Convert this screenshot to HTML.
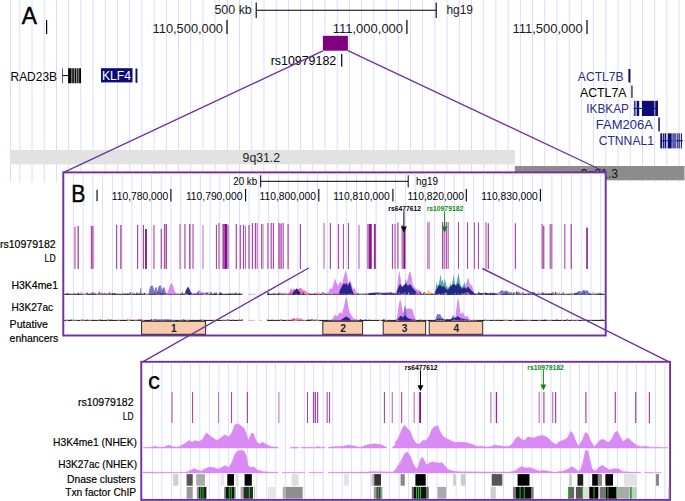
<!DOCTYPE html>
<html><head><meta charset="utf-8"><title>Figure</title>
<style>
html,body{margin:0;padding:0;background:#fff;}
body{width:685px;height:501px;overflow:hidden;font-family:"Liberation Sans",sans-serif;}
svg{display:block;font-family:"Liberation Sans",sans-serif;}
</style></head><body>
<svg width="685" height="501" viewBox="0 0 685 501">
<g id="A">
<rect x="10.07" y="0" width="0.85" height="182.00" fill="#d6d6ff"/>
<rect x="19.38" y="0" width="0.85" height="182.30" fill="#d6d6ff"/>
<rect x="31.58" y="0" width="0.85" height="182.30" fill="#d6d6ff"/>
<rect x="43.79" y="0" width="0.85" height="182.30" fill="#d6d6ff"/>
<rect x="56.00" y="0" width="0.85" height="182.30" fill="#d6d6ff"/>
<rect x="68.21" y="0" width="0.85" height="182.30" fill="#d6d6ff"/>
<rect x="80.42" y="0" width="0.85" height="182.30" fill="#d6d6ff"/>
<rect x="92.62" y="0" width="0.85" height="182.30" fill="#d6d6ff"/>
<rect x="104.83" y="0" width="0.85" height="182.30" fill="#d6d6ff"/>
<rect x="117.04" y="0" width="0.85" height="182.30" fill="#d6d6ff"/>
<rect x="129.25" y="0" width="0.85" height="182.30" fill="#d6d6ff"/>
<rect x="141.45" y="0" width="0.85" height="182.30" fill="#d6d6ff"/>
<rect x="153.66" y="0" width="0.85" height="182.30" fill="#d6d6ff"/>
<rect x="165.87" y="0" width="0.85" height="182.30" fill="#d6d6ff"/>
<rect x="178.08" y="0" width="0.85" height="182.30" fill="#d6d6ff"/>
<rect x="190.29" y="0" width="0.85" height="182.30" fill="#d6d6ff"/>
<rect x="202.49" y="0" width="0.85" height="182.30" fill="#d6d6ff"/>
<rect x="214.70" y="0" width="0.85" height="182.30" fill="#d6d6ff"/>
<rect x="226.91" y="0" width="0.85" height="182.30" fill="#d6d6ff"/>
<rect x="239.12" y="0" width="0.85" height="182.30" fill="#d6d6ff"/>
<rect x="251.33" y="0" width="0.85" height="182.30" fill="#d6d6ff"/>
<rect x="263.53" y="0" width="0.85" height="182.30" fill="#d6d6ff"/>
<rect x="275.74" y="0" width="0.85" height="182.30" fill="#d6d6ff"/>
<rect x="287.95" y="0" width="0.85" height="182.30" fill="#d6d6ff"/>
<rect x="300.16" y="0" width="0.85" height="182.30" fill="#d6d6ff"/>
<rect x="312.37" y="0" width="0.85" height="182.30" fill="#d6d6ff"/>
<rect x="324.58" y="0" width="0.85" height="182.30" fill="#d6d6ff"/>
<rect x="336.78" y="0" width="0.85" height="182.30" fill="#d6d6ff"/>
<rect x="348.99" y="0" width="0.85" height="182.30" fill="#d6d6ff"/>
<rect x="361.20" y="0" width="0.85" height="182.30" fill="#d6d6ff"/>
<rect x="373.41" y="0" width="0.85" height="182.30" fill="#d6d6ff"/>
<rect x="385.62" y="0" width="0.85" height="182.30" fill="#d6d6ff"/>
<rect x="397.82" y="0" width="0.85" height="182.30" fill="#d6d6ff"/>
<rect x="410.03" y="0" width="0.85" height="182.30" fill="#d6d6ff"/>
<rect x="422.24" y="0" width="0.85" height="182.30" fill="#d6d6ff"/>
<rect x="434.45" y="0" width="0.85" height="182.30" fill="#d6d6ff"/>
<rect x="446.66" y="0" width="0.85" height="182.30" fill="#d6d6ff"/>
<rect x="458.86" y="0" width="0.85" height="182.30" fill="#d6d6ff"/>
<rect x="471.07" y="0" width="0.85" height="182.30" fill="#d6d6ff"/>
<rect x="483.28" y="0" width="0.85" height="182.30" fill="#d6d6ff"/>
<rect x="495.49" y="0" width="0.85" height="182.30" fill="#d6d6ff"/>
<rect x="507.70" y="0" width="0.85" height="182.30" fill="#d6d6ff"/>
<rect x="519.90" y="0" width="0.85" height="182.30" fill="#d6d6ff"/>
<rect x="532.11" y="0" width="0.85" height="182.30" fill="#d6d6ff"/>
<rect x="544.32" y="0" width="0.85" height="182.30" fill="#d6d6ff"/>
<rect x="556.53" y="0" width="0.85" height="182.30" fill="#d6d6ff"/>
<rect x="568.74" y="0" width="0.85" height="182.30" fill="#d6d6ff"/>
<rect x="580.94" y="0" width="0.85" height="182.30" fill="#d6d6ff"/>
<rect x="593.15" y="0" width="0.85" height="182.30" fill="#d6d6ff"/>
<rect x="605.36" y="0" width="0.85" height="182.30" fill="#d6d6ff"/>
<rect x="617.57" y="0" width="0.85" height="182.30" fill="#d6d6ff"/>
<rect x="629.78" y="0" width="0.85" height="182.30" fill="#d6d6ff"/>
<rect x="641.98" y="0" width="0.85" height="182.30" fill="#d6d6ff"/>
<rect x="654.19" y="0" width="0.85" height="182.30" fill="#d6d6ff"/>
<rect x="666.40" y="0" width="0.85" height="182.30" fill="#d6d6ff"/>
<rect x="678.61" y="0" width="0.85" height="182.30" fill="#d6d6ff"/>
<rect x="10.00" y="150.00" width="504.80" height="14.30" fill="#e2e2e2"/>
<rect x="514.80" y="166.00" width="169.70" height="14.30" fill="#8c8c8c"/>
<text x="242.6" y="161.6" font-size="12.3" fill="#222" text-anchor="start" font-weight="normal" textLength="37.5" lengthAdjust="spacingAndGlyphs">9q31.2</text>
<text x="580.7" y="177.8" font-size="12.3" fill="#111" text-anchor="start" font-weight="normal" textLength="37.4" lengthAdjust="spacingAndGlyphs">9q31.3</text>
<text x="21.8" y="24.3" font-size="24.5" fill="#000" text-anchor="start" font-weight="normal" textLength="15.2" lengthAdjust="spacingAndGlyphs" stroke="#000" stroke-width="0.45">A</text>
<rect x="46.00" y="20" width="1.2" height="14.00" fill="#000"/>
<text x="214.4" y="14.3" font-size="12.5" fill="#1a1a1a" text-anchor="start" font-weight="normal" textLength="37.4" lengthAdjust="spacingAndGlyphs">500 kb</text>
<path d="M256.2 2.5V18M436.2 2.5V18M256.2 10.2H436.2" stroke="#000" stroke-width="1.1" fill="none"/>
<text x="446.5" y="14.3" font-size="12.5" fill="#1a1a1a" text-anchor="start" font-weight="normal" textLength="26.5" lengthAdjust="spacingAndGlyphs">hg19</text>
<text x="152.6" y="33.1" font-size="12.6" fill="#1a1a1a" text-anchor="start" font-weight="normal" textLength="70.4" lengthAdjust="spacingAndGlyphs">110,500,000</text>
<rect x="226.40" y="20" width="1.2" height="14.00" fill="#000"/>
<text x="332.7" y="33.1" font-size="12.6" fill="#1a1a1a" text-anchor="start" font-weight="normal" textLength="70.4" lengthAdjust="spacingAndGlyphs">111,000,000</text>
<rect x="406.30" y="20" width="1.2" height="14.00" fill="#000"/>
<text x="512.4" y="33.1" font-size="12.6" fill="#1a1a1a" text-anchor="start" font-weight="normal" textLength="70.4" lengthAdjust="spacingAndGlyphs">111,500,000</text>
<rect x="586.40" y="20" width="1.2" height="14.00" fill="#000"/>
<rect x="322.90" y="35.80" width="25.00" height="14.90" fill="#800080"/>
<text x="270.7" y="65" font-size="12.3" fill="#000" text-anchor="start" font-weight="normal" textLength="65.5" lengthAdjust="spacingAndGlyphs">rs10979182</text>
<rect x="341.10" y="54" width="1.2" height="12.60" fill="#000"/>
<text x="10.5" y="80.6" font-size="12.2" fill="#000" text-anchor="start" font-weight="normal" textLength="46.5" lengthAdjust="spacingAndGlyphs">RAD23B</text>
<path d="M62.5 75.6H69" stroke="#000" stroke-width="1"/>
<rect x="62.20" y="68.30" width="0.80" height="14.90" fill="#444"/>
<rect x="68.10" y="68.30" width="12.90" height="14.90" fill="#bbb"/>
<rect x="68.10" y="68.30" width="3.30" height="14.90" fill="#000"/>
<rect x="72.30" y="68.30" width="1.50" height="14.90" fill="#000"/>
<rect x="74.70" y="68.30" width="1.30" height="14.90" fill="#000"/>
<rect x="76.70" y="68.30" width="1.90" height="14.90" fill="#333"/>
<rect x="79.20" y="68.30" width="1.80" height="14.90" fill="#000"/>
<rect x="101.00" y="68.20" width="31.50" height="14.20" fill="#0c0c78"/>
<text x="102" y="80.3" font-size="12.2" fill="#fff" text-anchor="start" font-weight="normal" textLength="29" lengthAdjust="spacingAndGlyphs">KLF4</text>
<rect x="135.50" y="68.50" width="1.90" height="14.30" fill="#0c0c78"/>
<text x="577.8" y="80.6" font-size="12.2" fill="#2a2a8c" text-anchor="start" font-weight="normal" textLength="45.8" lengthAdjust="spacingAndGlyphs">ACTL7B</text>
<rect x="628.40" y="69.00" width="2.00" height="13.40" fill="#0c0c78"/>
<text x="580" y="97" font-size="12.2" fill="#000" text-anchor="start" font-weight="normal" textLength="46.5" lengthAdjust="spacingAndGlyphs">ACTL7A</text>
<rect x="631.40" y="85.50" width="1.10" height="12.50" fill="#000"/>
<text x="586.2" y="113" font-size="12.2" fill="#2a2a8c" text-anchor="start" font-weight="normal" textLength="42.8" lengthAdjust="spacingAndGlyphs">IKBKAP</text>
<path d="M633.7 108.4H657.7" stroke="#0c0c78" stroke-width="1"/>
<rect x="633.90" y="100.80" width="0.90" height="15.20" fill="#0c0c78"/>
<rect x="635.50" y="100.80" width="0.90" height="15.20" fill="#0c0c78"/>
<rect x="637.00" y="100.80" width="2.20" height="15.20" fill="#0c0c78"/>
<rect x="641.90" y="100.80" width="12.50" height="15.20" fill="#0c0c78"/>
<rect x="655.20" y="100.80" width="2.80" height="15.20" fill="#0c0c78"/>
<text x="595.8" y="129.3" font-size="12.2" fill="#2a2a8c" text-anchor="start" font-weight="normal" textLength="57.2" lengthAdjust="spacingAndGlyphs">FAM206A</text>
<rect x="658.30" y="117.50" width="1.50" height="13.90" fill="#0c0c78"/>
<text x="598.7" y="145.4" font-size="12.2" fill="#2a2a8c" text-anchor="start" font-weight="normal" textLength="55.3" lengthAdjust="spacingAndGlyphs">CTNNAL1</text>
<path d="M660.8 140.8H683" stroke="#0c0c78" stroke-width="1"/>
<rect x="672.20" y="133.30" width="4.00" height="15.10" fill="#5a5aa8"/>
<rect x="660.30" y="133.30" width="2.00" height="15.10" fill="#0c0c78"/>
<rect x="663.10" y="133.30" width="1.20" height="15.10" fill="#0c0c78"/>
<rect x="664.80" y="133.30" width="1.40" height="15.10" fill="#0c0c78"/>
<rect x="667.70" y="133.30" width="4.00" height="15.10" fill="#0c0c78"/>
<rect x="676.80" y="133.30" width="0.90" height="15.10" fill="#0c0c78"/>
<rect x="678.50" y="133.30" width="1.20" height="15.10" fill="#0c0c78"/>
<rect x="680.80" y="133.30" width="1.10" height="15.10" fill="#0c0c78"/>
</g>
<path d="M322.9 50.9L63.2 172.6M347.9 50.6L606 172.2" stroke="#7030A0" stroke-width="1.25" fill="none"/>
<g id="B">
<rect x="63.30" y="172.40" width="542.40" height="163.10" fill="#fff" stroke="#7030A0" stroke-width="1.95"/>
<rect x="72.88" y="173.4" width="0.85" height="147.00" fill="#d6d6ff"/>
<rect x="82.64" y="173.4" width="0.85" height="147.00" fill="#d6d6ff"/>
<rect x="92.41" y="173.4" width="0.85" height="147.00" fill="#d6d6ff"/>
<rect x="102.18" y="173.4" width="0.85" height="147.00" fill="#d6d6ff"/>
<rect x="111.94" y="173.4" width="0.85" height="147.00" fill="#d6d6ff"/>
<rect x="121.71" y="173.4" width="0.85" height="147.00" fill="#d6d6ff"/>
<rect x="131.48" y="173.4" width="0.85" height="147.00" fill="#d6d6ff"/>
<rect x="141.24" y="173.4" width="0.85" height="147.00" fill="#d6d6ff"/>
<rect x="151.01" y="173.4" width="0.85" height="147.00" fill="#d6d6ff"/>
<rect x="160.78" y="173.4" width="0.85" height="147.00" fill="#d6d6ff"/>
<rect x="170.54" y="173.4" width="0.85" height="147.00" fill="#d6d6ff"/>
<rect x="180.31" y="173.4" width="0.85" height="147.00" fill="#d6d6ff"/>
<rect x="190.08" y="173.4" width="0.85" height="147.00" fill="#d6d6ff"/>
<rect x="199.85" y="173.4" width="0.85" height="147.00" fill="#d6d6ff"/>
<rect x="209.61" y="173.4" width="0.85" height="147.00" fill="#d6d6ff"/>
<rect x="219.38" y="173.4" width="0.85" height="147.00" fill="#d6d6ff"/>
<rect x="229.15" y="173.4" width="0.85" height="147.00" fill="#d6d6ff"/>
<rect x="238.91" y="173.4" width="0.85" height="147.00" fill="#d6d6ff"/>
<rect x="248.68" y="173.4" width="0.85" height="147.00" fill="#d6d6ff"/>
<rect x="258.45" y="173.4" width="0.85" height="147.00" fill="#d6d6ff"/>
<rect x="268.21" y="173.4" width="0.85" height="147.00" fill="#d6d6ff"/>
<rect x="277.98" y="173.4" width="0.85" height="147.00" fill="#d6d6ff"/>
<rect x="287.75" y="173.4" width="0.85" height="147.00" fill="#d6d6ff"/>
<rect x="297.52" y="173.4" width="0.85" height="147.00" fill="#d6d6ff"/>
<rect x="307.28" y="173.4" width="0.85" height="147.00" fill="#d6d6ff"/>
<rect x="317.05" y="173.4" width="0.85" height="147.00" fill="#d6d6ff"/>
<rect x="326.82" y="173.4" width="0.85" height="147.00" fill="#d6d6ff"/>
<rect x="336.58" y="173.4" width="0.85" height="147.00" fill="#d6d6ff"/>
<rect x="346.35" y="173.4" width="0.85" height="147.00" fill="#d6d6ff"/>
<rect x="356.12" y="173.4" width="0.85" height="147.00" fill="#d6d6ff"/>
<rect x="365.88" y="173.4" width="0.85" height="147.00" fill="#d6d6ff"/>
<rect x="375.65" y="173.4" width="0.85" height="147.00" fill="#d6d6ff"/>
<rect x="385.42" y="173.4" width="0.85" height="147.00" fill="#d6d6ff"/>
<rect x="395.19" y="173.4" width="0.85" height="147.00" fill="#d6d6ff"/>
<rect x="404.95" y="173.4" width="0.85" height="147.00" fill="#d6d6ff"/>
<rect x="414.72" y="173.4" width="0.85" height="147.00" fill="#d6d6ff"/>
<rect x="424.49" y="173.4" width="0.85" height="147.00" fill="#d6d6ff"/>
<rect x="434.25" y="173.4" width="0.85" height="147.00" fill="#d6d6ff"/>
<rect x="444.02" y="173.4" width="0.85" height="147.00" fill="#d6d6ff"/>
<rect x="453.79" y="173.4" width="0.85" height="147.00" fill="#d6d6ff"/>
<rect x="463.55" y="173.4" width="0.85" height="147.00" fill="#d6d6ff"/>
<rect x="473.32" y="173.4" width="0.85" height="147.00" fill="#d6d6ff"/>
<rect x="483.09" y="173.4" width="0.85" height="147.00" fill="#d6d6ff"/>
<rect x="492.86" y="173.4" width="0.85" height="147.00" fill="#d6d6ff"/>
<rect x="502.62" y="173.4" width="0.85" height="147.00" fill="#d6d6ff"/>
<rect x="512.39" y="173.4" width="0.85" height="147.00" fill="#d6d6ff"/>
<rect x="522.16" y="173.4" width="0.85" height="147.00" fill="#d6d6ff"/>
<rect x="531.92" y="173.4" width="0.85" height="147.00" fill="#d6d6ff"/>
<rect x="541.69" y="173.4" width="0.85" height="147.00" fill="#d6d6ff"/>
<rect x="551.46" y="173.4" width="0.85" height="147.00" fill="#d6d6ff"/>
<rect x="561.23" y="173.4" width="0.85" height="147.00" fill="#d6d6ff"/>
<rect x="570.99" y="173.4" width="0.85" height="147.00" fill="#d6d6ff"/>
<rect x="580.76" y="173.4" width="0.85" height="147.00" fill="#d6d6ff"/>
<rect x="590.53" y="173.4" width="0.85" height="147.00" fill="#d6d6ff"/>
<rect x="600.29" y="173.4" width="0.85" height="147.00" fill="#d6d6ff"/>
<text x="71.3" y="201.8" font-size="23.5" fill="#000" text-anchor="start" font-weight="normal" textLength="14.2" lengthAdjust="spacingAndGlyphs" stroke="#000" stroke-width="0.4">B</text>
<rect x="96.30" y="189.8" width="1.6" height="11.40" fill="#4a4a4a"/>
<text x="233.2" y="185.4" font-size="11" fill="#000" text-anchor="start" font-weight="normal" textLength="24" lengthAdjust="spacingAndGlyphs">20 kb</text>
<path d="M260.7 175.3V187.3M408.2 175.3V187.3M260.7 181.3H408.2" stroke="#000" stroke-width="1" fill="none"/>
<text x="415.9" y="185.4" font-size="11" fill="#000" text-anchor="start" font-weight="normal" textLength="22" lengthAdjust="spacingAndGlyphs">hg19</text>
<text x="111.8" y="200.4" font-size="11" fill="#000" text-anchor="start" font-weight="normal" textLength="56.5" lengthAdjust="spacingAndGlyphs">110,780,000</text>
<rect x="170.35" y="189" width="1.1" height="12.40" fill="#000"/>
<text x="185.9" y="200.4" font-size="11" fill="#000" text-anchor="start" font-weight="normal" textLength="56.5" lengthAdjust="spacingAndGlyphs">110,790,000</text>
<rect x="245.05" y="189" width="1.1" height="12.40" fill="#000"/>
<text x="259.5" y="200.4" font-size="11" fill="#000" text-anchor="start" font-weight="normal" textLength="56.5" lengthAdjust="spacingAndGlyphs">110,800,000</text>
<rect x="318.25" y="189" width="1.1" height="12.40" fill="#000"/>
<text x="333.2" y="200.4" font-size="11" fill="#000" text-anchor="start" font-weight="normal" textLength="56.5" lengthAdjust="spacingAndGlyphs">110,810,000</text>
<rect x="392.35" y="189" width="1.1" height="12.40" fill="#000"/>
<text x="407.5" y="200.4" font-size="11" fill="#000" text-anchor="start" font-weight="normal" textLength="56.5" lengthAdjust="spacingAndGlyphs">110,820,000</text>
<rect x="465.75" y="189" width="1.1" height="12.40" fill="#000"/>
<text x="481.2" y="200.4" font-size="11" fill="#000" text-anchor="start" font-weight="normal" textLength="56.5" lengthAdjust="spacingAndGlyphs">110,830,000</text>
<rect x="539.85" y="189" width="1.1" height="12.40" fill="#000"/>
<rect x="73.90" y="226.90" width="2.00" height="42.00" fill="#cb94cb"/>
<rect x="77.50" y="225.90" width="1.40" height="43.00" fill="#aa48aa"/>
<rect x="90.80" y="225.90" width="2.00" height="43.00" fill="#aa48aa"/>
<rect x="92.80" y="225.90" width="1.40" height="43.00" fill="#cb94cb"/>
<rect x="116.00" y="225.00" width="1.20" height="43.90" fill="#aa48aa"/>
<rect x="120.20" y="225.00" width="1.40" height="43.90" fill="#aa48aa"/>
<rect x="137.00" y="225.00" width="1.20" height="43.90" fill="#aa48aa"/>
<rect x="142.80" y="225.00" width="1.20" height="43.90" fill="#aa48aa"/>
<rect x="145.00" y="229.00" width="2.00" height="39.90" fill="#982498"/>
<rect x="152.90" y="225.00" width="2.00" height="43.90" fill="#cb94cb"/>
<rect x="160.70" y="229.00" width="1.20" height="39.90" fill="#aa48aa"/>
<rect x="163.90" y="224.00" width="1.40" height="44.90" fill="#aa48aa"/>
<rect x="165.70" y="224.00" width="1.30" height="44.90" fill="#aa48aa"/>
<rect x="179.20" y="224.00" width="1.90" height="44.90" fill="#cb94cb"/>
<rect x="184.10" y="224.00" width="1.60" height="44.90" fill="#bf78bf"/>
<rect x="189.10" y="224.00" width="1.40" height="44.90" fill="#aa48aa"/>
<rect x="192.10" y="224.00" width="1.90" height="44.90" fill="#cb94cb"/>
<rect x="202.40" y="225.00" width="1.10" height="43.90" fill="#bf78bf"/>
<rect x="215.90" y="225.00" width="1.10" height="43.90" fill="#aa48aa"/>
<rect x="218.20" y="223.00" width="1.60" height="45.90" fill="#bf78bf"/>
<rect x="222.40" y="224.00" width="2.00" height="44.90" fill="#aa48aa"/>
<rect x="224.40" y="224.00" width="3.00" height="44.90" fill="#860c86"/>
<rect x="227.40" y="225.00" width="1.40" height="43.90" fill="#bf78bf"/>
<rect x="235.70" y="224.00" width="1.20" height="44.90" fill="#aa48aa"/>
<rect x="239.70" y="225.00" width="1.20" height="43.90" fill="#aa48aa"/>
<rect x="242.90" y="225.00" width="1.10" height="43.90" fill="#aa48aa"/>
<rect x="244.80" y="226.00" width="1.00" height="42.90" fill="#aa48aa"/>
<rect x="248.40" y="225.00" width="1.20" height="43.90" fill="#aa48aa"/>
<rect x="251.80" y="223.00" width="1.20" height="45.90" fill="#aa48aa"/>
<rect x="254.80" y="223.00" width="1.20" height="45.90" fill="#aa48aa"/>
<rect x="256.60" y="223.00" width="1.30" height="45.90" fill="#bf78bf"/>
<rect x="261.10" y="224.00" width="1.20" height="44.90" fill="#aa48aa"/>
<rect x="262.50" y="224.00" width="1.20" height="44.90" fill="#cb94cb"/>
<rect x="267.10" y="223.00" width="1.60" height="45.90" fill="#bf78bf"/>
<rect x="270.60" y="223.00" width="1.20" height="45.90" fill="#aa48aa"/>
<rect x="272.80" y="223.00" width="1.20" height="45.90" fill="#aa48aa"/>
<rect x="278.00" y="223.00" width="2.00" height="45.90" fill="#bf78bf"/>
<rect x="280.40" y="223.50" width="1.40" height="45.40" fill="#aa48aa"/>
<rect x="282.60" y="223.00" width="1.20" height="45.90" fill="#aa48aa"/>
<rect x="287.50" y="224.00" width="1.20" height="44.90" fill="#aa48aa"/>
<rect x="299.80" y="224.00" width="1.20" height="44.90" fill="#aa48aa"/>
<rect x="323.30" y="223.00" width="1.50" height="45.90" fill="#cb94cb"/>
<rect x="329.80" y="223.00" width="1.20" height="45.90" fill="#aa48aa"/>
<rect x="337.90" y="224.00" width="1.20" height="44.90" fill="#aa48aa"/>
<rect x="342.90" y="224.00" width="1.00" height="44.90" fill="#aa48aa"/>
<rect x="347.90" y="223.00" width="1.10" height="45.90" fill="#aa48aa"/>
<rect x="358.20" y="225.00" width="1.60" height="43.90" fill="#cb94cb"/>
<rect x="367.10" y="224.00" width="2.00" height="44.90" fill="#bf78bf"/>
<rect x="369.10" y="224.00" width="2.60" height="44.90" fill="#860c86"/>
<rect x="373.90" y="224.00" width="1.90" height="44.90" fill="#982498"/>
<rect x="391.90" y="224.00" width="1.20" height="44.90" fill="#aa48aa"/>
<rect x="394.50" y="224.00" width="1.00" height="44.90" fill="#aa48aa"/>
<rect x="397.10" y="222.40" width="1.60" height="46.50" fill="#bf78bf"/>
<rect x="401.50" y="225.00" width="1.90" height="43.90" fill="#bf78bf"/>
<rect x="403.40" y="227.00" width="2.00" height="41.90" fill="#860c86"/>
<rect x="427.10" y="222.40" width="1.40" height="46.50" fill="#bf78bf"/>
<rect x="428.70" y="221.60" width="1.10" height="47.30" fill="#bf78bf"/>
<rect x="442.00" y="222.00" width="1.30" height="46.90" fill="#aa48aa"/>
<rect x="443.70" y="224.00" width="1.40" height="44.90" fill="#bf78bf"/>
<rect x="445.70" y="222.00" width="1.20" height="46.90" fill="#aa48aa"/>
<rect x="447.50" y="222.00" width="1.40" height="46.90" fill="#bf78bf"/>
<rect x="458.00" y="222.00" width="1.00" height="46.90" fill="#aa48aa"/>
<rect x="467.00" y="222.30" width="1.10" height="46.60" fill="#aa48aa"/>
<rect x="473.90" y="222.30" width="1.00" height="46.60" fill="#aa48aa"/>
<rect x="477.90" y="222.30" width="1.10" height="46.60" fill="#aa48aa"/>
<rect x="485.10" y="222.30" width="1.80" height="46.60" fill="#cb94cb"/>
<rect x="487.70" y="223.30" width="1.30" height="45.60" fill="#aa48aa"/>
<rect x="514.80" y="223.30" width="1.20" height="45.60" fill="#aa48aa"/>
<rect x="541.40" y="224.00" width="1.70" height="44.90" fill="#bf78bf"/>
<rect x="543.10" y="226.00" width="1.30" height="42.90" fill="#aa48aa"/>
<rect x="549.50" y="224.00" width="3.00" height="44.90" fill="#bf78bf"/>
<rect x="564.00" y="224.00" width="1.50" height="44.90" fill="#bf78bf"/>
<rect x="570.60" y="224.00" width="1.30" height="44.90" fill="#aa48aa"/>
<rect x="586.20" y="227.60" width="1.70" height="41.30" fill="#982498"/>
<path d="M64.3 294.3H242.5M267 294.3H604.7M64.3 320.4H242.5M267 320.4H604.7" stroke="#111" stroke-width="1"/>
<path d="M166.5 294.3L166.5 294.3L168.2 291.0L170.0 285.0L171.4 282.9L172.8 285.0L174.5 291.0L176.0 294.3L176.0 294.3Z" fill="#d88af5"/>
<path d="M196.0 294.3L196.0 294.3L198.0 291.0L199.4 289.9L201.0 292.0L204.0 293.0L212.0 294.3L212.0 294.3Z" fill="#d88af5"/>
<path d="M327.4 294.3L327.4 294.3L329.0 291.0L330.0 288.3L332.0 289.0L334.0 282.0L335.3 278.6L336.5 283.0L338.0 286.0L340.5 281.3L342.0 284.0L344.0 276.0L345.5 270.4L347.0 275.0L348.5 284.0L350.0 279.5L351.5 284.0L353.0 289.0L354.5 288.0L356.0 292.0L358.1 294.3L358.1 294.3Z" fill="#d88af5"/>
<path d="M395.4 294.3L395.4 294.3L397.0 289.0L398.3 277.0L399.4 270.8L400.4 277.0L401.6 285.0L403.0 288.0L404.5 286.0L406.0 283.0L407.5 280.0L408.8 274.0L410.3 271.1L411.4 276.0L412.6 284.0L414.5 287.5L417.0 289.5L420.0 290.5L422.6 294.3L422.6 294.3Z" fill="#d88af5"/>
<path d="M464.0 294.3L464.0 294.3L466.0 284.0L468.1 276.9L469.5 283.0L471.0 286.0L471.6 284.0L473.0 289.0L475.0 294.3L475.0 294.3Z" fill="#d88af5"/>
<path d="M380.0 294.3L380.0 294.3L384.0 292.5L388.0 293.0L392.0 292.0L395.0 294.3L395.0 294.3Z" fill="#d88af5"/>
<path d="M288.9 294.3L288.9 294.3L290.0 290.5L291.0 287.8L292.5 290.5L294.0 288.3L296.0 290.5L299.0 288.3L301.0 287.8L303.0 290.0L305.0 290.5L307.0 292.3L309.9 294.3L309.9 294.3Z" fill="#f27cc0"/>
<path d="M140.0 294.3L140.0 294.3L140.3 288.0L141.0 287.6L141.6 294.3L141.6 294.3Z" fill="#7878c8"/>
<path d="M148.5 294.3L148.5 294.3L149.5 289.0L150.5 286.0L152.5 285.5L153.6 288.0L154.3 292.0L155.0 288.0L156.5 287.0L157.3 292.0L158.0 288.0L159.0 285.8L161.0 285.5L161.8 290.0L162.8 288.0L164.0 287.0L165.3 290.0L166.0 294.3L166.0 294.3Z" fill="#7878c8"/>
<path d="M497.0 294.3L497.0 294.3L500.0 291.5L502.0 290.0L504.0 291.5L506.0 290.5L508.0 291.5L511.0 293.0L514.0 294.3L514.0 294.3Z" fill="#7878c8"/>
<path d="M516.0 294.3L516.0 294.3L518.0 291.2L520.0 293.0L522.0 294.3L522.0 294.3Z" fill="#7878c8"/>
<path d="M530.0 294.3L530.0 294.3L532.0 292.0L534.0 291.8L536.0 294.3L536.0 294.3Z" fill="#7878c8"/>
<path d="M574.0 294.3L574.0 294.3L577.0 292.5L579.5 290.5L581.0 292.0L584.0 289.5L585.0 291.0L587.0 290.0L589.0 292.5L592.0 294.3L592.0 294.3Z" fill="#7878c8"/>
<path d="M434.0 294.3L434.0 294.3L435.4 290.0L436.6 281.5L437.6 286.0L438.8 284.0L440.6 274.3L441.7 282.0L442.7 279.5L443.8 284.0L445.0 278.6L446.2 285.0L448.0 288.0L449.5 286.0L450.6 283.0L451.6 286.5L452.6 281.0L453.7 275.1L454.8 283.0L455.8 285.5L457.0 280.0L458.5 272.2L459.6 280.0L461.0 287.0L463.0 286.0L464.6 282.1L466.0 288.0L468.0 294.3L468.0 294.3Z" fill="#50a0a0" opacity="0.9"/>
<path d="M403.5 294.3L403.5 294.3L404.6 285.0L405.9 278.6L407.0 285.0L408.5 294.3L408.5 294.3Z" fill="#50a0a0" opacity="0.9"/>
<path d="M184.5 294.3L184.5 294.3L186.0 290.0L188.0 286.4L189.5 289.0L191.5 294.3L191.5 294.3Z" fill="#1a1a82" opacity="0.9"/>
<path d="M292.0 294.3L292.0 294.3L294.0 291.0L296.8 288.3L299.0 291.0L302.0 294.3L302.0 294.3Z" fill="#1a1a82" opacity="0.9"/>
<path d="M338.8 294.3L338.8 294.3L340.0 290.0L342.0 286.0L344.0 283.0L345.0 284.5L346.5 283.0L348.0 286.0L349.3 282.1L350.5 284.0L352.0 290.0L354.0 294.3L354.0 294.3Z" fill="#1a1a82" opacity="0.9"/>
<path d="M396.3 294.3L396.3 294.3L398.0 288.0L400.0 284.0L402.0 287.0L404.0 285.0L406.0 283.5L408.0 286.0L410.0 284.0L412.0 287.0L414.0 289.5L416.0 291.5L418.0 294.3L418.0 294.3Z" fill="#1a1a82" opacity="0.9"/>
<path d="M434.5 294.3L434.5 294.3L436.0 290.0L438.0 287.0L440.0 284.5L442.0 287.0L444.0 286.0L446.0 289.0L448.0 290.0L450.0 287.0L452.0 285.0L454.0 284.0L456.0 286.0L458.0 283.0L460.0 286.0L462.0 289.0L464.0 287.0L466.0 289.0L468.0 286.5L470.0 289.0L472.0 291.0L474.0 293.0L475.0 294.3L475.0 294.3Z" fill="#1a1a82" opacity="0.9"/>
<path d="M366.0 294.3L366.0 294.3L370.0 293.0L376.0 292.6L384.0 293.0L390.0 292.4L396.0 294.3L396.0 294.3Z" fill="#1a1a82" opacity="0.85"/>
<path d="M476.0 294.3L476.0 294.3L480.0 293.0L486.0 293.2L492.0 293.0L497.0 294.3L497.0 294.3Z" fill="#1a1a82" opacity="0.8"/>
<path d="M427.0 294.3L427.0 294.3L428.5 289.5L430.0 294.3L430.0 294.3Z" fill="#f0b040"/>
<path d="M331.2 320.4L331.2 320.4L333.0 318.0L335.3 314.6L337.0 316.5L339.0 313.5L340.6 311.9L342.0 314.0L344.0 306.0L345.5 299.0L346.2 297.0L347.0 299.0L348.5 308.0L350.0 313.0L351.1 314.6L353.0 318.0L356.0 319.3L359.9 320.4L359.9 320.4Z" fill="#d88af5"/>
<path d="M396.3 320.4L396.3 320.4L397.5 314.0L399.0 304.0L400.1 298.8L401.2 303.0L402.5 311.0L404.0 313.0L405.5 309.0L407.7 308.4L410.0 308.4L412.5 309.5L413.5 314.0L415.0 318.0L416.4 320.4L416.4 320.4Z" fill="#d88af5"/>
<path d="M454.0 320.4L454.0 320.4L455.5 316.0L457.0 304.0L458.1 296.2L459.2 304.0L460.5 314.0L462.0 313.0L462.9 311.9L464.0 315.0L466.0 317.0L467.2 315.4L469.0 318.5L471.0 320.4L471.0 320.4Z" fill="#d88af5"/>
<path d="M289.8 320.4L289.8 320.4L292.0 318.5L293.5 317.7L295.5 319.0L297.0 318.0L299.0 318.5L301.0 318.2L303.8 320.4L303.8 320.4Z" fill="#f27cc0"/>
<path d="M403.0 320.4L403.0 320.4L404.0 310.0L405.0 304.0L406.0 310.0L407.0 320.4L407.0 320.4Z" fill="#7878c8"/>
<path d="M435.0 320.4L435.0 320.4L436.5 316.0L437.5 313.7L439.0 314.5L440.0 313.7L441.5 317.0L443.0 318.0L445.0 320.4L445.0 320.4Z" fill="#7878c8"/>
<path d="M451.0 320.4L451.0 320.4L452.5 316.0L453.2 314.6L454.5 318.0L456.0 320.4L456.0 320.4Z" fill="#7878c8"/>
<path d="M150.0 320.4L150.0 320.4L154.0 319.3L160.0 319.5L168.0 319.2L176.0 320.4L176.0 320.4Z" fill="#7878c8"/>
<path d="M397.0 320.4L397.0 320.4L399.0 317.5L401.0 315.5L403.0 317.5L405.0 315.0L407.0 317.5L409.0 318.5L412.0 319.4L415.0 320.4L415.0 320.4Z" fill="#1a1a82" opacity="0.9"/>
<path d="M436.0 320.4L436.0 320.4L438.0 318.5L440.0 319.0L444.0 319.6L450.0 319.3L453.0 318.0L456.0 317.5L458.0 316.0L460.0 318.0L463.0 318.8L467.0 319.5L470.0 320.4L470.0 320.4Z" fill="#1a1a82" opacity="0.9"/>
<path d="M340.0 320.4L340.0 320.4L343.0 318.5L346.0 316.5L349.0 318.0L351.0 320.4L351.0 320.4Z" fill="#1a1a82" opacity="0.9"/>
<rect x="66.0" y="293.51" width="1.3" height="0.79" fill="#1a1a82" opacity="0.8"/>
<rect x="67.3" y="292.78" width="1.3" height="1.52" fill="#c03050" opacity="0.8"/>
<rect x="71.2" y="293.64" width="1.3" height="0.66" fill="#d88af5" opacity="0.8"/>
<rect x="72.5" y="293.63" width="1.3" height="0.67" fill="#d88af5" opacity="0.8"/>
<rect x="73.8" y="292.73" width="1.3" height="1.57" fill="#7878c8" opacity="0.8"/>
<rect x="77.7" y="292.69" width="1.3" height="1.61" fill="#1a1a82" opacity="0.8"/>
<rect x="80.3" y="292.17" width="1.3" height="2.13" fill="#f27cc0" opacity="0.8"/>
<rect x="81.6" y="292.77" width="1.3" height="1.53" fill="#f27cc0" opacity="0.8"/>
<rect x="85.5" y="292.71" width="1.3" height="1.59" fill="#7878c8" opacity="0.8"/>
<rect x="86.8" y="292.76" width="1.3" height="1.54" fill="#1a1a82" opacity="0.8"/>
<rect x="90.7" y="292.79" width="1.3" height="1.51" fill="#c03050" opacity="0.8"/>
<rect x="92.0" y="292.05" width="1.3" height="2.25" fill="#c03050" opacity="0.8"/>
<rect x="93.3" y="292.29" width="1.3" height="2.01" fill="#7878c8" opacity="0.8"/>
<rect x="94.6" y="293.23" width="1.3" height="1.07" fill="#3a3ab0" opacity="0.8"/>
<rect x="98.5" y="291.94" width="1.3" height="2.36" fill="#1a1a82" opacity="0.8"/>
<rect x="99.8" y="293.49" width="1.3" height="0.81" fill="#c03050" opacity="0.8"/>
<rect x="101.1" y="292.87" width="1.3" height="1.43" fill="#1a1a82" opacity="0.8"/>
<rect x="103.7" y="292.74" width="1.3" height="1.56" fill="#c03050" opacity="0.8"/>
<rect x="105.0" y="293.13" width="1.3" height="1.17" fill="#3a3ab0" opacity="0.8"/>
<rect x="107.6" y="292.20" width="1.3" height="2.10" fill="#f27cc0" opacity="0.8"/>
<rect x="108.9" y="292.54" width="1.3" height="1.76" fill="#1a1a82" opacity="0.8"/>
<rect x="111.5" y="292.70" width="1.3" height="1.60" fill="#3a3ab0" opacity="0.8"/>
<rect x="112.8" y="293.07" width="1.3" height="1.23" fill="#c03050" opacity="0.8"/>
<rect x="114.1" y="292.92" width="1.3" height="1.38" fill="#1a1a82" opacity="0.8"/>
<rect x="116.7" y="293.39" width="1.3" height="0.91" fill="#f27cc0" opacity="0.8"/>
<rect x="118.0" y="293.33" width="1.3" height="0.97" fill="#d88af5" opacity="0.8"/>
<rect x="120.6" y="293.48" width="1.3" height="0.82" fill="#d88af5" opacity="0.8"/>
<rect x="121.9" y="292.12" width="1.3" height="2.18" fill="#d88af5" opacity="0.8"/>
<rect x="124.5" y="293.01" width="1.3" height="1.29" fill="#c03050" opacity="0.8"/>
<rect x="127.1" y="293.36" width="1.3" height="0.94" fill="#1a1a82" opacity="0.8"/>
<rect x="128.4" y="293.36" width="1.3" height="0.94" fill="#7878c8" opacity="0.8"/>
<rect x="129.7" y="292.22" width="1.3" height="2.08" fill="#1a1a82" opacity="0.8"/>
<rect x="131.0" y="293.79" width="1.3" height="0.51" fill="#d88af5" opacity="0.8"/>
<rect x="132.3" y="292.64" width="1.3" height="1.66" fill="#c03050" opacity="0.8"/>
<rect x="136.2" y="292.63" width="1.3" height="1.67" fill="#1a1a82" opacity="0.8"/>
<rect x="137.5" y="292.15" width="1.3" height="2.15" fill="#d88af5" opacity="0.8"/>
<rect x="138.8" y="293.05" width="1.3" height="1.25" fill="#3a3ab0" opacity="0.8"/>
<rect x="141.4" y="293.67" width="1.3" height="0.63" fill="#7878c8" opacity="0.8"/>
<rect x="142.7" y="293.59" width="1.3" height="0.71" fill="#1a1a82" opacity="0.8"/>
<rect x="144.0" y="292.72" width="1.3" height="1.58" fill="#1a1a82" opacity="0.8"/>
<rect x="147.9" y="293.40" width="1.3" height="0.90" fill="#d88af5" opacity="0.8"/>
<rect x="149.2" y="293.32" width="1.3" height="0.98" fill="#c03050" opacity="0.8"/>
<rect x="151.8" y="293.58" width="1.3" height="0.72" fill="#3a3ab0" opacity="0.8"/>
<rect x="154.4" y="292.88" width="1.3" height="1.42" fill="#1a1a82" opacity="0.8"/>
<rect x="155.7" y="292.38" width="1.3" height="1.92" fill="#f27cc0" opacity="0.8"/>
<rect x="157.0" y="292.49" width="1.3" height="1.81" fill="#1a1a82" opacity="0.8"/>
<rect x="158.3" y="291.99" width="1.3" height="2.31" fill="#c03050" opacity="0.8"/>
<rect x="159.6" y="292.77" width="1.3" height="1.53" fill="#1a1a82" opacity="0.8"/>
<rect x="162.2" y="292.58" width="1.3" height="1.72" fill="#1a1a82" opacity="0.8"/>
<rect x="164.8" y="293.10" width="1.3" height="1.20" fill="#1a1a82" opacity="0.8"/>
<rect x="166.1" y="293.38" width="1.3" height="0.92" fill="#c03050" opacity="0.8"/>
<rect x="172.6" y="293.35" width="1.3" height="0.95" fill="#d88af5" opacity="0.8"/>
<rect x="175.2" y="292.82" width="1.3" height="1.48" fill="#c03050" opacity="0.8"/>
<rect x="180.4" y="293.43" width="1.3" height="0.87" fill="#c03050" opacity="0.8"/>
<rect x="181.7" y="292.02" width="1.3" height="2.28" fill="#c03050" opacity="0.8"/>
<rect x="184.3" y="293.38" width="1.3" height="0.92" fill="#7878c8" opacity="0.8"/>
<rect x="185.6" y="293.16" width="1.3" height="1.14" fill="#3a3ab0" opacity="0.8"/>
<rect x="190.8" y="292.56" width="1.3" height="1.74" fill="#1a1a82" opacity="0.8"/>
<rect x="193.4" y="293.06" width="1.3" height="1.24" fill="#7878c8" opacity="0.8"/>
<rect x="194.7" y="293.46" width="1.3" height="0.84" fill="#c03050" opacity="0.8"/>
<rect x="196.0" y="292.00" width="1.3" height="2.30" fill="#d88af5" opacity="0.8"/>
<rect x="197.3" y="292.39" width="1.3" height="1.91" fill="#1a1a82" opacity="0.8"/>
<rect x="199.9" y="293.56" width="1.3" height="0.74" fill="#1a1a82" opacity="0.8"/>
<rect x="202.5" y="292.55" width="1.3" height="1.75" fill="#3a3ab0" opacity="0.8"/>
<rect x="205.1" y="292.76" width="1.3" height="1.54" fill="#1a1a82" opacity="0.8"/>
<rect x="206.4" y="292.28" width="1.3" height="2.02" fill="#1a1a82" opacity="0.8"/>
<rect x="207.7" y="292.03" width="1.3" height="2.27" fill="#d88af5" opacity="0.8"/>
<rect x="210.3" y="292.14" width="1.3" height="2.16" fill="#1a1a82" opacity="0.8"/>
<rect x="211.6" y="293.24" width="1.3" height="1.06" fill="#7878c8" opacity="0.8"/>
<rect x="214.2" y="292.77" width="1.3" height="1.53" fill="#1a1a82" opacity="0.8"/>
<rect x="215.5" y="292.39" width="1.3" height="1.91" fill="#3a3ab0" opacity="0.8"/>
<rect x="219.4" y="292.23" width="1.3" height="2.07" fill="#1a1a82" opacity="0.8"/>
<rect x="220.7" y="292.81" width="1.3" height="1.49" fill="#1a1a82" opacity="0.8"/>
<rect x="227.2" y="293.53" width="1.3" height="0.77" fill="#1a1a82" opacity="0.8"/>
<rect x="229.8" y="292.82" width="1.3" height="1.48" fill="#3a3ab0" opacity="0.8"/>
<rect x="232.4" y="292.74" width="1.3" height="1.56" fill="#7878c8" opacity="0.8"/>
<rect x="233.7" y="293.72" width="1.3" height="0.58" fill="#1a1a82" opacity="0.8"/>
<rect x="235.0" y="292.73" width="1.3" height="1.57" fill="#1a1a82" opacity="0.8"/>
<rect x="236.3" y="292.64" width="1.3" height="1.66" fill="#7878c8" opacity="0.8"/>
<rect x="238.9" y="292.79" width="1.3" height="1.51" fill="#3a3ab0" opacity="0.8"/>
<rect x="240.2" y="293.33" width="1.3" height="0.97" fill="#f27cc0" opacity="0.8"/>
<rect x="267.5" y="292.12" width="1.3" height="2.18" fill="#1a1a82" opacity="0.8"/>
<rect x="271.4" y="292.98" width="1.3" height="1.32" fill="#d88af5" opacity="0.8"/>
<rect x="272.7" y="293.43" width="1.3" height="0.87" fill="#c03050" opacity="0.8"/>
<rect x="274.0" y="293.10" width="1.3" height="1.20" fill="#c03050" opacity="0.8"/>
<rect x="276.6" y="293.77" width="1.3" height="0.53" fill="#c03050" opacity="0.8"/>
<rect x="277.9" y="293.24" width="1.3" height="1.06" fill="#1a1a82" opacity="0.8"/>
<rect x="279.2" y="292.05" width="1.3" height="2.25" fill="#7878c8" opacity="0.8"/>
<rect x="281.8" y="293.30" width="1.3" height="1.00" fill="#1a1a82" opacity="0.8"/>
<rect x="284.4" y="292.36" width="1.3" height="1.94" fill="#d88af5" opacity="0.8"/>
<rect x="289.6" y="292.78" width="1.3" height="1.52" fill="#3a3ab0" opacity="0.8"/>
<rect x="292.2" y="293.69" width="1.3" height="0.61" fill="#1a1a82" opacity="0.8"/>
<rect x="293.5" y="293.66" width="1.3" height="0.64" fill="#1a1a82" opacity="0.8"/>
<rect x="297.4" y="292.17" width="1.3" height="2.13" fill="#1a1a82" opacity="0.8"/>
<rect x="298.7" y="293.57" width="1.3" height="0.73" fill="#1a1a82" opacity="0.8"/>
<rect x="300.0" y="292.75" width="1.3" height="1.55" fill="#f27cc0" opacity="0.8"/>
<rect x="302.6" y="292.45" width="1.3" height="1.85" fill="#1a1a82" opacity="0.8"/>
<rect x="305.2" y="293.46" width="1.3" height="0.84" fill="#f27cc0" opacity="0.8"/>
<rect x="307.8" y="293.41" width="1.3" height="0.89" fill="#3a3ab0" opacity="0.8"/>
<rect x="309.1" y="293.46" width="1.3" height="0.84" fill="#c03050" opacity="0.8"/>
<rect x="313.0" y="293.76" width="1.3" height="0.54" fill="#7878c8" opacity="0.8"/>
<rect x="314.3" y="293.33" width="1.3" height="0.97" fill="#3a3ab0" opacity="0.8"/>
<rect x="315.6" y="292.24" width="1.3" height="2.06" fill="#d88af5" opacity="0.8"/>
<rect x="318.2" y="292.11" width="1.3" height="2.19" fill="#f27cc0" opacity="0.8"/>
<rect x="322.1" y="292.22" width="1.3" height="2.08" fill="#1a1a82" opacity="0.8"/>
<rect x="323.4" y="293.14" width="1.3" height="1.16" fill="#1a1a82" opacity="0.8"/>
<rect x="326.0" y="292.61" width="1.3" height="1.69" fill="#f27cc0" opacity="0.8"/>
<rect x="327.3" y="293.69" width="1.3" height="0.61" fill="#d88af5" opacity="0.8"/>
<rect x="331.2" y="293.34" width="1.3" height="0.96" fill="#f27cc0" opacity="0.8"/>
<rect x="332.5" y="293.45" width="1.3" height="0.85" fill="#f27cc0" opacity="0.8"/>
<rect x="333.8" y="293.30" width="1.3" height="1.00" fill="#c03050" opacity="0.8"/>
<rect x="336.4" y="293.34" width="1.3" height="0.96" fill="#f27cc0" opacity="0.8"/>
<rect x="337.7" y="293.45" width="1.3" height="0.85" fill="#c03050" opacity="0.8"/>
<rect x="339.0" y="292.90" width="1.3" height="1.40" fill="#7878c8" opacity="0.8"/>
<rect x="340.3" y="292.33" width="1.3" height="1.97" fill="#1a1a82" opacity="0.8"/>
<rect x="341.6" y="293.63" width="1.3" height="0.67" fill="#d88af5" opacity="0.8"/>
<rect x="344.2" y="293.23" width="1.3" height="1.07" fill="#7878c8" opacity="0.8"/>
<rect x="345.5" y="291.98" width="1.3" height="2.32" fill="#1a1a82" opacity="0.8"/>
<rect x="350.7" y="293.18" width="1.3" height="1.12" fill="#3a3ab0" opacity="0.8"/>
<rect x="352.0" y="292.42" width="1.3" height="1.88" fill="#1a1a82" opacity="0.8"/>
<rect x="353.3" y="292.21" width="1.3" height="2.09" fill="#d88af5" opacity="0.8"/>
<rect x="357.2" y="292.80" width="1.3" height="1.50" fill="#1a1a82" opacity="0.8"/>
<rect x="365.0" y="293.74" width="1.3" height="0.56" fill="#1a1a82" opacity="0.8"/>
<rect x="368.9" y="292.94" width="1.3" height="1.36" fill="#1a1a82" opacity="0.8"/>
<rect x="374.1" y="293.79" width="1.3" height="0.51" fill="#1a1a82" opacity="0.8"/>
<rect x="376.7" y="292.78" width="1.3" height="1.52" fill="#1a1a82" opacity="0.8"/>
<rect x="379.3" y="292.26" width="1.3" height="2.04" fill="#f27cc0" opacity="0.8"/>
<rect x="380.6" y="292.36" width="1.3" height="1.94" fill="#7878c8" opacity="0.8"/>
<rect x="384.5" y="293.07" width="1.3" height="1.23" fill="#3a3ab0" opacity="0.8"/>
<rect x="387.1" y="293.71" width="1.3" height="0.59" fill="#7878c8" opacity="0.8"/>
<rect x="388.4" y="293.52" width="1.3" height="0.78" fill="#f27cc0" opacity="0.8"/>
<rect x="393.6" y="292.88" width="1.3" height="1.42" fill="#3a3ab0" opacity="0.8"/>
<rect x="394.9" y="292.52" width="1.3" height="1.78" fill="#7878c8" opacity="0.8"/>
<rect x="397.5" y="292.82" width="1.3" height="1.48" fill="#3a3ab0" opacity="0.8"/>
<rect x="398.8" y="292.34" width="1.3" height="1.96" fill="#7878c8" opacity="0.8"/>
<rect x="400.1" y="293.64" width="1.3" height="0.66" fill="#3a3ab0" opacity="0.8"/>
<rect x="401.4" y="292.93" width="1.3" height="1.37" fill="#3a3ab0" opacity="0.8"/>
<rect x="404.0" y="292.06" width="1.3" height="2.24" fill="#7878c8" opacity="0.8"/>
<rect x="405.3" y="293.63" width="1.3" height="0.67" fill="#f27cc0" opacity="0.8"/>
<rect x="407.9" y="292.24" width="1.3" height="2.06" fill="#f27cc0" opacity="0.8"/>
<rect x="411.8" y="292.09" width="1.3" height="2.21" fill="#3a3ab0" opacity="0.8"/>
<rect x="413.1" y="293.50" width="1.3" height="0.80" fill="#3a3ab0" opacity="0.8"/>
<rect x="415.7" y="292.42" width="1.3" height="1.88" fill="#d88af5" opacity="0.8"/>
<rect x="417.0" y="293.20" width="1.3" height="1.10" fill="#c03050" opacity="0.8"/>
<rect x="418.3" y="292.37" width="1.3" height="1.93" fill="#d88af5" opacity="0.8"/>
<rect x="419.6" y="292.04" width="1.3" height="2.26" fill="#1a1a82" opacity="0.8"/>
<rect x="422.2" y="293.09" width="1.3" height="1.21" fill="#d88af5" opacity="0.8"/>
<rect x="423.5" y="292.15" width="1.3" height="2.15" fill="#1a1a82" opacity="0.8"/>
<rect x="424.8" y="292.99" width="1.3" height="1.31" fill="#f27cc0" opacity="0.8"/>
<rect x="427.4" y="293.70" width="1.3" height="0.60" fill="#f27cc0" opacity="0.8"/>
<rect x="430.0" y="291.96" width="1.3" height="2.34" fill="#d88af5" opacity="0.8"/>
<rect x="431.3" y="293.44" width="1.3" height="0.86" fill="#c03050" opacity="0.8"/>
<rect x="433.9" y="293.74" width="1.3" height="0.56" fill="#d88af5" opacity="0.8"/>
<rect x="437.8" y="292.43" width="1.3" height="1.87" fill="#1a1a82" opacity="0.8"/>
<rect x="440.4" y="292.63" width="1.3" height="1.67" fill="#1a1a82" opacity="0.8"/>
<rect x="443.0" y="293.71" width="1.3" height="0.59" fill="#1a1a82" opacity="0.8"/>
<rect x="444.3" y="293.01" width="1.3" height="1.29" fill="#f27cc0" opacity="0.8"/>
<rect x="445.6" y="292.40" width="1.3" height="1.90" fill="#f27cc0" opacity="0.8"/>
<rect x="446.9" y="293.35" width="1.3" height="0.95" fill="#3a3ab0" opacity="0.8"/>
<rect x="449.5" y="293.48" width="1.3" height="0.82" fill="#1a1a82" opacity="0.8"/>
<rect x="450.8" y="292.85" width="1.3" height="1.45" fill="#3a3ab0" opacity="0.8"/>
<rect x="453.4" y="293.17" width="1.3" height="1.13" fill="#3a3ab0" opacity="0.8"/>
<rect x="454.7" y="292.76" width="1.3" height="1.54" fill="#7878c8" opacity="0.8"/>
<rect x="456.0" y="293.15" width="1.3" height="1.15" fill="#1a1a82" opacity="0.8"/>
<rect x="457.3" y="293.10" width="1.3" height="1.20" fill="#7878c8" opacity="0.8"/>
<rect x="461.2" y="293.01" width="1.3" height="1.29" fill="#7878c8" opacity="0.8"/>
<rect x="462.5" y="293.16" width="1.3" height="1.14" fill="#1a1a82" opacity="0.8"/>
<rect x="463.8" y="292.71" width="1.3" height="1.59" fill="#c03050" opacity="0.8"/>
<rect x="465.1" y="292.84" width="1.3" height="1.46" fill="#7878c8" opacity="0.8"/>
<rect x="466.4" y="292.10" width="1.3" height="2.20" fill="#d88af5" opacity="0.8"/>
<rect x="467.7" y="292.95" width="1.3" height="1.35" fill="#f27cc0" opacity="0.8"/>
<rect x="471.6" y="293.74" width="1.3" height="0.56" fill="#3a3ab0" opacity="0.8"/>
<rect x="474.2" y="293.66" width="1.3" height="0.64" fill="#3a3ab0" opacity="0.8"/>
<rect x="476.8" y="293.59" width="1.3" height="0.71" fill="#1a1a82" opacity="0.8"/>
<rect x="478.1" y="291.95" width="1.3" height="2.35" fill="#1a1a82" opacity="0.8"/>
<rect x="484.6" y="292.35" width="1.3" height="1.95" fill="#1a1a82" opacity="0.8"/>
<rect x="485.9" y="293.16" width="1.3" height="1.14" fill="#1a1a82" opacity="0.8"/>
<rect x="488.5" y="293.16" width="1.3" height="1.14" fill="#f27cc0" opacity="0.8"/>
<rect x="489.8" y="292.57" width="1.3" height="1.73" fill="#1a1a82" opacity="0.8"/>
<rect x="491.1" y="292.83" width="1.3" height="1.47" fill="#7878c8" opacity="0.8"/>
<rect x="492.4" y="292.98" width="1.3" height="1.32" fill="#1a1a82" opacity="0.8"/>
<rect x="493.7" y="292.83" width="1.3" height="1.47" fill="#3a3ab0" opacity="0.8"/>
<rect x="495.0" y="292.80" width="1.3" height="1.50" fill="#7878c8" opacity="0.8"/>
<rect x="496.3" y="292.95" width="1.3" height="1.35" fill="#7878c8" opacity="0.8"/>
<rect x="497.6" y="292.62" width="1.3" height="1.68" fill="#f27cc0" opacity="0.8"/>
<rect x="498.9" y="293.03" width="1.3" height="1.27" fill="#d88af5" opacity="0.8"/>
<rect x="500.2" y="292.97" width="1.3" height="1.33" fill="#d88af5" opacity="0.8"/>
<rect x="502.8" y="293.34" width="1.3" height="0.96" fill="#c03050" opacity="0.8"/>
<rect x="505.4" y="292.65" width="1.3" height="1.65" fill="#1a1a82" opacity="0.8"/>
<rect x="509.3" y="293.01" width="1.3" height="1.29" fill="#7878c8" opacity="0.8"/>
<rect x="510.6" y="291.84" width="1.3" height="2.46" fill="#7878c8" opacity="0.8"/>
<rect x="511.9" y="292.90" width="1.3" height="1.40" fill="#f27cc0" opacity="0.8"/>
<rect x="513.2" y="292.22" width="1.3" height="2.08" fill="#1a1a82" opacity="0.8"/>
<rect x="515.8" y="291.67" width="1.3" height="2.63" fill="#1a1a82" opacity="0.8"/>
<rect x="518.4" y="292.65" width="1.3" height="1.65" fill="#7878c8" opacity="0.8"/>
<rect x="519.7" y="292.27" width="1.3" height="2.03" fill="#d88af5" opacity="0.8"/>
<rect x="521.0" y="293.29" width="1.3" height="1.01" fill="#d88af5" opacity="0.8"/>
<rect x="522.3" y="292.05" width="1.3" height="2.25" fill="#c03050" opacity="0.8"/>
<rect x="527.5" y="293.05" width="1.3" height="1.25" fill="#3a3ab0" opacity="0.8"/>
<rect x="528.8" y="292.14" width="1.3" height="2.16" fill="#d88af5" opacity="0.8"/>
<rect x="532.7" y="293.19" width="1.3" height="1.11" fill="#1a1a82" opacity="0.8"/>
<rect x="534.0" y="292.73" width="1.3" height="1.57" fill="#1a1a82" opacity="0.8"/>
<rect x="537.9" y="291.94" width="1.3" height="2.36" fill="#f27cc0" opacity="0.8"/>
<rect x="540.5" y="293.31" width="1.3" height="0.99" fill="#3a3ab0" opacity="0.8"/>
<rect x="541.8" y="292.37" width="1.3" height="1.93" fill="#3a3ab0" opacity="0.8"/>
<rect x="543.1" y="292.71" width="1.3" height="1.59" fill="#3a3ab0" opacity="0.8"/>
<rect x="544.4" y="292.62" width="1.3" height="1.68" fill="#d88af5" opacity="0.8"/>
<rect x="545.7" y="293.33" width="1.3" height="0.97" fill="#1a1a82" opacity="0.8"/>
<rect x="548.3" y="293.03" width="1.3" height="1.27" fill="#1a1a82" opacity="0.8"/>
<rect x="550.9" y="292.88" width="1.3" height="1.42" fill="#1a1a82" opacity="0.8"/>
<rect x="552.2" y="292.04" width="1.3" height="2.26" fill="#c03050" opacity="0.8"/>
<rect x="554.8" y="292.03" width="1.3" height="2.27" fill="#1a1a82" opacity="0.8"/>
<rect x="556.1" y="292.96" width="1.3" height="1.34" fill="#3a3ab0" opacity="0.8"/>
<rect x="558.7" y="291.92" width="1.3" height="2.38" fill="#f27cc0" opacity="0.8"/>
<rect x="562.6" y="292.46" width="1.3" height="1.84" fill="#1a1a82" opacity="0.8"/>
<rect x="570.4" y="292.79" width="1.3" height="1.51" fill="#c03050" opacity="0.8"/>
<rect x="574.3" y="292.66" width="1.3" height="1.64" fill="#1a1a82" opacity="0.8"/>
<rect x="575.6" y="293.28" width="1.3" height="1.02" fill="#1a1a82" opacity="0.8"/>
<rect x="576.9" y="292.37" width="1.3" height="1.93" fill="#1a1a82" opacity="0.8"/>
<rect x="582.1" y="293.24" width="1.3" height="1.06" fill="#1a1a82" opacity="0.8"/>
<rect x="583.4" y="291.52" width="1.3" height="2.78" fill="#3a3ab0" opacity="0.8"/>
<rect x="584.7" y="293.15" width="1.3" height="1.15" fill="#3a3ab0" opacity="0.8"/>
<rect x="592.5" y="291.80" width="1.3" height="2.50" fill="#f27cc0" opacity="0.8"/>
<rect x="593.8" y="292.89" width="1.3" height="1.41" fill="#f27cc0" opacity="0.8"/>
<rect x="596.4" y="292.93" width="1.3" height="1.37" fill="#7878c8" opacity="0.8"/>
<rect x="597.7" y="292.87" width="1.3" height="1.43" fill="#7878c8" opacity="0.8"/>
<rect x="599.0" y="292.65" width="1.3" height="1.65" fill="#7878c8" opacity="0.8"/>
<rect x="600.3" y="293.36" width="1.3" height="0.94" fill="#1a1a82" opacity="0.8"/>
<rect x="66.0" y="319.47" width="1.3" height="0.93" fill="#7878c8" opacity="0.8"/>
<rect x="69.9" y="319.64" width="1.3" height="0.76" fill="#1a1a82" opacity="0.8"/>
<rect x="71.2" y="319.36" width="1.3" height="1.04" fill="#7878c8" opacity="0.8"/>
<rect x="81.6" y="319.36" width="1.3" height="1.04" fill="#c03050" opacity="0.8"/>
<rect x="85.5" y="319.72" width="1.3" height="0.68" fill="#f27cc0" opacity="0.8"/>
<rect x="86.8" y="319.24" width="1.3" height="1.16" fill="#7878c8" opacity="0.8"/>
<rect x="94.6" y="319.87" width="1.3" height="0.53" fill="#3a3ab0" opacity="0.8"/>
<rect x="97.2" y="319.81" width="1.3" height="0.59" fill="#d88af5" opacity="0.8"/>
<rect x="99.8" y="319.42" width="1.3" height="0.98" fill="#1a1a82" opacity="0.8"/>
<rect x="107.6" y="319.23" width="1.3" height="1.17" fill="#c03050" opacity="0.8"/>
<rect x="110.2" y="319.21" width="1.3" height="1.19" fill="#c03050" opacity="0.8"/>
<rect x="118.0" y="319.80" width="1.3" height="0.60" fill="#1a1a82" opacity="0.8"/>
<rect x="123.2" y="319.89" width="1.3" height="0.51" fill="#1a1a82" opacity="0.8"/>
<rect x="127.1" y="319.34" width="1.3" height="1.06" fill="#c03050" opacity="0.8"/>
<rect x="129.7" y="319.59" width="1.3" height="0.81" fill="#1a1a82" opacity="0.8"/>
<rect x="133.6" y="319.46" width="1.3" height="0.94" fill="#7878c8" opacity="0.8"/>
<rect x="137.5" y="319.08" width="1.3" height="1.32" fill="#c03050" opacity="0.8"/>
<rect x="138.8" y="319.07" width="1.3" height="1.33" fill="#d88af5" opacity="0.8"/>
<rect x="140.1" y="319.26" width="1.3" height="1.14" fill="#1a1a82" opacity="0.8"/>
<rect x="150.5" y="319.06" width="1.3" height="1.34" fill="#1a1a82" opacity="0.8"/>
<rect x="153.1" y="319.68" width="1.3" height="0.72" fill="#7878c8" opacity="0.8"/>
<rect x="154.4" y="319.39" width="1.3" height="1.01" fill="#1a1a82" opacity="0.8"/>
<rect x="171.3" y="319.90" width="1.3" height="0.50" fill="#3a3ab0" opacity="0.8"/>
<rect x="181.7" y="319.58" width="1.3" height="0.82" fill="#c03050" opacity="0.8"/>
<rect x="183.0" y="319.50" width="1.3" height="0.90" fill="#1a1a82" opacity="0.8"/>
<rect x="184.3" y="319.78" width="1.3" height="0.62" fill="#c03050" opacity="0.8"/>
<rect x="188.2" y="319.45" width="1.3" height="0.95" fill="#d88af5" opacity="0.8"/>
<rect x="192.1" y="319.84" width="1.3" height="0.56" fill="#1a1a82" opacity="0.8"/>
<rect x="199.9" y="319.19" width="1.3" height="1.21" fill="#7878c8" opacity="0.8"/>
<rect x="201.2" y="319.58" width="1.3" height="0.82" fill="#f27cc0" opacity="0.8"/>
<rect x="202.5" y="319.09" width="1.3" height="1.31" fill="#f27cc0" opacity="0.8"/>
<rect x="227.2" y="319.13" width="1.3" height="1.27" fill="#3a3ab0" opacity="0.8"/>
<rect x="232.4" y="319.01" width="1.3" height="1.39" fill="#d88af5" opacity="0.8"/>
<rect x="238.9" y="319.60" width="1.3" height="0.80" fill="#1a1a82" opacity="0.8"/>
<rect x="241.5" y="319.23" width="1.3" height="1.17" fill="#1a1a82" opacity="0.8"/>
<rect x="266.2" y="319.39" width="1.3" height="1.01" fill="#f27cc0" opacity="0.8"/>
<rect x="267.5" y="319.58" width="1.3" height="0.82" fill="#7878c8" opacity="0.8"/>
<rect x="271.4" y="319.57" width="1.3" height="0.83" fill="#3a3ab0" opacity="0.8"/>
<rect x="272.7" y="319.89" width="1.3" height="0.51" fill="#7878c8" opacity="0.8"/>
<rect x="276.6" y="319.77" width="1.3" height="0.63" fill="#f27cc0" opacity="0.8"/>
<rect x="280.5" y="319.32" width="1.3" height="1.08" fill="#c03050" opacity="0.8"/>
<rect x="288.3" y="319.90" width="1.3" height="0.50" fill="#1a1a82" opacity="0.8"/>
<rect x="293.5" y="319.20" width="1.3" height="1.20" fill="#1a1a82" opacity="0.8"/>
<rect x="307.8" y="319.34" width="1.3" height="1.06" fill="#3a3ab0" opacity="0.8"/>
<rect x="310.4" y="319.14" width="1.3" height="1.26" fill="#3a3ab0" opacity="0.8"/>
<rect x="311.7" y="319.31" width="1.3" height="1.09" fill="#1a1a82" opacity="0.8"/>
<rect x="314.3" y="319.69" width="1.3" height="0.71" fill="#1a1a82" opacity="0.8"/>
<rect x="315.6" y="319.10" width="1.3" height="1.30" fill="#f27cc0" opacity="0.8"/>
<rect x="331.2" y="319.67" width="1.3" height="0.73" fill="#7878c8" opacity="0.8"/>
<rect x="335.1" y="319.08" width="1.3" height="1.32" fill="#7878c8" opacity="0.8"/>
<rect x="359.8" y="319.08" width="1.3" height="1.32" fill="#1a1a82" opacity="0.8"/>
<rect x="361.1" y="319.80" width="1.3" height="0.60" fill="#1a1a82" opacity="0.8"/>
<rect x="363.7" y="319.87" width="1.3" height="0.53" fill="#1a1a82" opacity="0.8"/>
<rect x="365.0" y="319.32" width="1.3" height="1.08" fill="#1a1a82" opacity="0.8"/>
<rect x="368.9" y="319.37" width="1.3" height="1.03" fill="#c03050" opacity="0.8"/>
<rect x="383.2" y="319.05" width="1.3" height="1.35" fill="#1a1a82" opacity="0.8"/>
<rect x="388.4" y="319.81" width="1.3" height="0.59" fill="#7878c8" opacity="0.8"/>
<rect x="396.2" y="319.22" width="1.3" height="1.18" fill="#c03050" opacity="0.8"/>
<rect x="405.3" y="319.43" width="1.3" height="0.97" fill="#1a1a82" opacity="0.8"/>
<rect x="413.1" y="319.16" width="1.3" height="1.24" fill="#1a1a82" opacity="0.8"/>
<rect x="419.6" y="319.59" width="1.3" height="0.81" fill="#1a1a82" opacity="0.8"/>
<rect x="436.5" y="319.33" width="1.3" height="1.07" fill="#1a1a82" opacity="0.8"/>
<rect x="441.7" y="319.61" width="1.3" height="0.79" fill="#1a1a82" opacity="0.8"/>
<rect x="446.9" y="319.10" width="1.3" height="1.30" fill="#1a1a82" opacity="0.8"/>
<rect x="453.4" y="319.02" width="1.3" height="1.38" fill="#7878c8" opacity="0.8"/>
<rect x="456.0" y="319.37" width="1.3" height="1.03" fill="#1a1a82" opacity="0.8"/>
<rect x="459.9" y="319.14" width="1.3" height="1.26" fill="#c03050" opacity="0.8"/>
<rect x="461.2" y="319.51" width="1.3" height="0.89" fill="#f27cc0" opacity="0.8"/>
<rect x="463.8" y="319.48" width="1.3" height="0.92" fill="#7878c8" opacity="0.8"/>
<rect x="484.6" y="319.31" width="1.3" height="1.09" fill="#7878c8" opacity="0.8"/>
<rect x="495.0" y="319.71" width="1.3" height="0.69" fill="#d88af5" opacity="0.8"/>
<rect x="497.6" y="319.13" width="1.3" height="1.27" fill="#d88af5" opacity="0.8"/>
<rect x="504.1" y="319.36" width="1.3" height="1.04" fill="#d88af5" opacity="0.8"/>
<rect x="505.4" y="319.68" width="1.3" height="0.72" fill="#d88af5" opacity="0.8"/>
<rect x="521.0" y="319.51" width="1.3" height="0.89" fill="#f27cc0" opacity="0.8"/>
<rect x="523.6" y="319.52" width="1.3" height="0.88" fill="#d88af5" opacity="0.8"/>
<rect x="544.4" y="319.41" width="1.3" height="0.99" fill="#1a1a82" opacity="0.8"/>
<rect x="556.1" y="319.19" width="1.3" height="1.21" fill="#c03050" opacity="0.8"/>
<rect x="566.5" y="319.01" width="1.3" height="1.39" fill="#c03050" opacity="0.8"/>
<rect x="571.7" y="319.83" width="1.3" height="0.57" fill="#d88af5" opacity="0.8"/>
<rect x="576.9" y="319.63" width="1.3" height="0.77" fill="#d88af5" opacity="0.8"/>
<rect x="586.0" y="319.20" width="1.3" height="1.20" fill="#7878c8" opacity="0.8"/>
<rect x="601.6" y="319.15" width="1.3" height="1.25" fill="#c03050" opacity="0.8"/>
<rect x="83.0" y="293.8" width="2.4" height="1" fill="#e8c060" opacity="0.85"/>
<rect x="86.0" y="293.8" width="1.5" height="1" fill="#b070d0" opacity="0.85"/>
<rect x="95.7" y="293.8" width="2.5" height="1" fill="#e58ab8" opacity="0.85"/>
<rect x="98.8" y="293.8" width="1.6" height="1" fill="#e8c060" opacity="0.85"/>
<rect x="101.0" y="293.8" width="1.7" height="1" fill="#60b8a8" opacity="0.85"/>
<rect x="103.3" y="293.8" width="2.9" height="1" fill="#b070d0" opacity="0.85"/>
<rect x="106.8" y="293.8" width="1.9" height="1" fill="#b070d0" opacity="0.85"/>
<rect x="109.3" y="293.8" width="2.8" height="1" fill="#d06080" opacity="0.85"/>
<rect x="130.0" y="293.8" width="2.3" height="1" fill="#60b8a8" opacity="0.85"/>
<rect x="142.8" y="293.8" width="1.7" height="1" fill="#8080c8" opacity="0.85"/>
<rect x="145.1" y="293.8" width="2.9" height="1" fill="#e8c060" opacity="0.85"/>
<rect x="157.1" y="293.8" width="3.1" height="1" fill="#d06080" opacity="0.85"/>
<rect x="163.3" y="293.8" width="1.2" height="1" fill="#d06080" opacity="0.85"/>
<rect x="165.2" y="293.8" width="3.1" height="1" fill="#e58ab8" opacity="0.85"/>
<rect x="171.6" y="293.8" width="3.0" height="1" fill="#d06080" opacity="0.85"/>
<rect x="175.2" y="293.8" width="2.0" height="1" fill="#e58ab8" opacity="0.85"/>
<rect x="177.9" y="293.8" width="2.9" height="1" fill="#b070d0" opacity="0.85"/>
<rect x="184.8" y="293.8" width="3.0" height="1" fill="#e8c060" opacity="0.85"/>
<rect x="191.0" y="293.8" width="2.9" height="1" fill="#b070d0" opacity="0.85"/>
<rect x="203.2" y="293.8" width="2.8" height="1" fill="#e8c060" opacity="0.85"/>
<rect x="206.6" y="293.8" width="2.6" height="1" fill="#d06080" opacity="0.85"/>
<rect x="217.0" y="293.8" width="2.0" height="1" fill="#e58ab8" opacity="0.85"/>
<rect x="274.8" y="293.8" width="2.1" height="1" fill="#b070d0" opacity="0.85"/>
<rect x="280.5" y="293.8" width="2.5" height="1" fill="#b070d0" opacity="0.85"/>
<rect x="283.6" y="293.8" width="2.3" height="1" fill="#b070d0" opacity="0.85"/>
<rect x="286.5" y="293.8" width="1.6" height="1" fill="#e58ab8" opacity="0.85"/>
<rect x="288.7" y="293.8" width="2.1" height="1" fill="#d06080" opacity="0.85"/>
<rect x="295.4" y="293.8" width="1.5" height="1" fill="#d06080" opacity="0.85"/>
<rect x="306.2" y="293.8" width="2.6" height="1" fill="#e58ab8" opacity="0.85"/>
<rect x="318.1" y="293.8" width="1.3" height="1" fill="#e58ab8" opacity="0.85"/>
<rect x="321.9" y="293.8" width="2.8" height="1" fill="#e8c060" opacity="0.85"/>
<rect x="331.5" y="293.8" width="2.4" height="1" fill="#8080c8" opacity="0.85"/>
<rect x="346.8" y="293.8" width="2.1" height="1" fill="#8080c8" opacity="0.85"/>
<rect x="349.5" y="293.8" width="1.9" height="1" fill="#8080c8" opacity="0.85"/>
<rect x="355.7" y="293.8" width="2.9" height="1" fill="#8080c8" opacity="0.85"/>
<rect x="359.2" y="293.8" width="2.7" height="1" fill="#60b8a8" opacity="0.85"/>
<rect x="362.4" y="293.8" width="2.4" height="1" fill="#b070d0" opacity="0.85"/>
<rect x="365.4" y="293.8" width="3.2" height="1" fill="#b070d0" opacity="0.85"/>
<rect x="375.9" y="293.8" width="1.8" height="1" fill="#e8c060" opacity="0.85"/>
<rect x="378.3" y="293.8" width="1.7" height="1" fill="#e58ab8" opacity="0.85"/>
<rect x="380.6" y="293.8" width="1.8" height="1" fill="#8080c8" opacity="0.85"/>
<rect x="400.9" y="293.8" width="3.2" height="1" fill="#e58ab8" opacity="0.85"/>
<rect x="407.8" y="293.8" width="1.6" height="1" fill="#e58ab8" opacity="0.85"/>
<rect x="415.3" y="293.8" width="2.7" height="1" fill="#8080c8" opacity="0.85"/>
<rect x="418.7" y="293.8" width="2.2" height="1" fill="#8080c8" opacity="0.85"/>
<rect x="424.0" y="293.8" width="1.6" height="1" fill="#e58ab8" opacity="0.85"/>
<rect x="433.5" y="293.8" width="1.5" height="1" fill="#b070d0" opacity="0.85"/>
<rect x="435.6" y="293.8" width="1.9" height="1" fill="#d06080" opacity="0.85"/>
<rect x="438.1" y="293.8" width="2.1" height="1" fill="#e8c060" opacity="0.85"/>
<rect x="440.8" y="293.8" width="2.4" height="1" fill="#8080c8" opacity="0.85"/>
<rect x="443.8" y="293.8" width="2.4" height="1" fill="#60b8a8" opacity="0.85"/>
<rect x="461.7" y="293.8" width="3.1" height="1" fill="#e58ab8" opacity="0.85"/>
<rect x="467.9" y="293.8" width="2.0" height="1" fill="#e58ab8" opacity="0.85"/>
<rect x="476.1" y="293.8" width="3.0" height="1" fill="#8080c8" opacity="0.85"/>
<rect x="482.8" y="293.8" width="2.6" height="1" fill="#e8c060" opacity="0.85"/>
<rect x="497.4" y="293.8" width="3.2" height="1" fill="#e58ab8" opacity="0.85"/>
<rect x="514.2" y="293.8" width="2.2" height="1" fill="#e8c060" opacity="0.85"/>
<rect x="520.3" y="293.8" width="2.6" height="1" fill="#8080c8" opacity="0.85"/>
<rect x="526.1" y="293.8" width="2.1" height="1" fill="#b070d0" opacity="0.85"/>
<rect x="530.9" y="293.8" width="1.5" height="1" fill="#60b8a8" opacity="0.85"/>
<rect x="539.4" y="293.8" width="2.8" height="1" fill="#60b8a8" opacity="0.85"/>
<rect x="554.3" y="293.8" width="1.2" height="1" fill="#e8c060" opacity="0.85"/>
<rect x="556.2" y="293.8" width="1.8" height="1" fill="#e58ab8" opacity="0.85"/>
<rect x="558.6" y="293.8" width="2.5" height="1" fill="#60b8a8" opacity="0.85"/>
<rect x="561.7" y="293.8" width="2.7" height="1" fill="#b070d0" opacity="0.85"/>
<rect x="564.9" y="293.8" width="2.3" height="1" fill="#60b8a8" opacity="0.85"/>
<rect x="570.2" y="293.8" width="1.5" height="1" fill="#e8c060" opacity="0.85"/>
<rect x="572.3" y="293.8" width="1.9" height="1" fill="#b070d0" opacity="0.85"/>
<rect x="576.8" y="293.8" width="2.2" height="1" fill="#8080c8" opacity="0.85"/>
<rect x="581.5" y="293.8" width="2.5" height="1" fill="#b070d0" opacity="0.85"/>
<rect x="584.6" y="293.8" width="2.9" height="1" fill="#60b8a8" opacity="0.85"/>
<rect x="591.8" y="293.8" width="1.7" height="1" fill="#60b8a8" opacity="0.85"/>
<rect x="594.1" y="293.8" width="1.4" height="1" fill="#60b8a8" opacity="0.85"/>
<rect x="66.0" y="319.9" width="1.9" height="1" fill="#e58ab8" opacity="0.85"/>
<rect x="71.9" y="319.9" width="1.8" height="1" fill="#e58ab8" opacity="0.85"/>
<rect x="74.2" y="319.9" width="3.0" height="1" fill="#8080c8" opacity="0.85"/>
<rect x="80.0" y="319.9" width="2.2" height="1" fill="#60b8a8" opacity="0.85"/>
<rect x="82.9" y="319.9" width="1.6" height="1" fill="#e58ab8" opacity="0.85"/>
<rect x="88.6" y="319.9" width="2.7" height="1" fill="#60b8a8" opacity="0.85"/>
<rect x="98.4" y="319.9" width="1.6" height="1" fill="#d06080" opacity="0.85"/>
<rect x="107.1" y="319.9" width="1.9" height="1" fill="#d06080" opacity="0.85"/>
<rect x="117.7" y="319.9" width="1.7" height="1" fill="#e8c060" opacity="0.85"/>
<rect x="127.4" y="319.9" width="3.1" height="1" fill="#e8c060" opacity="0.85"/>
<rect x="134.3" y="319.9" width="2.9" height="1" fill="#d06080" opacity="0.85"/>
<rect x="141.4" y="319.9" width="3.0" height="1" fill="#e58ab8" opacity="0.85"/>
<rect x="151.5" y="319.9" width="2.3" height="1" fill="#e58ab8" opacity="0.85"/>
<rect x="154.4" y="319.9" width="1.6" height="1" fill="#e58ab8" opacity="0.85"/>
<rect x="159.1" y="319.9" width="3.1" height="1" fill="#d06080" opacity="0.85"/>
<rect x="162.8" y="319.9" width="2.7" height="1" fill="#8080c8" opacity="0.85"/>
<rect x="171.4" y="319.9" width="1.9" height="1" fill="#60b8a8" opacity="0.85"/>
<rect x="173.9" y="319.9" width="1.3" height="1" fill="#b070d0" opacity="0.85"/>
<rect x="178.8" y="319.9" width="1.4" height="1" fill="#60b8a8" opacity="0.85"/>
<rect x="180.8" y="319.9" width="2.3" height="1" fill="#60b8a8" opacity="0.85"/>
<rect x="185.8" y="319.9" width="2.7" height="1" fill="#e58ab8" opacity="0.85"/>
<rect x="201.9" y="319.9" width="1.9" height="1" fill="#e8c060" opacity="0.85"/>
<rect x="213.0" y="319.9" width="2.3" height="1" fill="#60b8a8" opacity="0.85"/>
<rect x="221.9" y="319.9" width="2.5" height="1" fill="#8080c8" opacity="0.85"/>
<rect x="225.0" y="319.9" width="1.6" height="1" fill="#60b8a8" opacity="0.85"/>
<rect x="227.2" y="319.9" width="2.2" height="1" fill="#60b8a8" opacity="0.85"/>
<rect x="238.3" y="319.9" width="3.1" height="1" fill="#d06080" opacity="0.85"/>
<rect x="279.8" y="319.9" width="2.7" height="1" fill="#b070d0" opacity="0.85"/>
<rect x="286.1" y="319.9" width="2.5" height="1" fill="#d06080" opacity="0.85"/>
<rect x="294.1" y="319.9" width="2.8" height="1" fill="#e8c060" opacity="0.85"/>
<rect x="302.3" y="319.9" width="1.2" height="1" fill="#60b8a8" opacity="0.85"/>
<rect x="304.2" y="319.9" width="1.8" height="1" fill="#e8c060" opacity="0.85"/>
<rect x="311.4" y="319.9" width="1.5" height="1" fill="#e8c060" opacity="0.85"/>
<rect x="313.5" y="319.9" width="2.1" height="1" fill="#b070d0" opacity="0.85"/>
<rect x="316.2" y="319.9" width="2.9" height="1" fill="#e58ab8" opacity="0.85"/>
<rect x="328.3" y="319.9" width="1.5" height="1" fill="#8080c8" opacity="0.85"/>
<rect x="379.2" y="319.9" width="2.1" height="1" fill="#e8c060" opacity="0.85"/>
<rect x="385.3" y="319.9" width="2.0" height="1" fill="#e8c060" opacity="0.85"/>
<rect x="396.0" y="319.9" width="3.0" height="1" fill="#e58ab8" opacity="0.85"/>
<rect x="412.7" y="319.9" width="2.1" height="1" fill="#d06080" opacity="0.85"/>
<rect x="421.1" y="319.9" width="1.4" height="1" fill="#b070d0" opacity="0.85"/>
<rect x="426.1" y="319.9" width="1.5" height="1" fill="#b070d0" opacity="0.85"/>
<rect x="436.6" y="319.9" width="2.8" height="1" fill="#e8c060" opacity="0.85"/>
<rect x="440.0" y="319.9" width="1.9" height="1" fill="#e8c060" opacity="0.85"/>
<rect x="442.5" y="319.9" width="2.2" height="1" fill="#e8c060" opacity="0.85"/>
<rect x="452.3" y="319.9" width="2.0" height="1" fill="#e8c060" opacity="0.85"/>
<rect x="455.0" y="319.9" width="2.8" height="1" fill="#60b8a8" opacity="0.85"/>
<rect x="458.4" y="319.9" width="2.0" height="1" fill="#8080c8" opacity="0.85"/>
<rect x="461.0" y="319.9" width="2.4" height="1" fill="#d06080" opacity="0.85"/>
<rect x="464.0" y="319.9" width="2.5" height="1" fill="#b070d0" opacity="0.85"/>
<rect x="467.1" y="319.9" width="1.2" height="1" fill="#d06080" opacity="0.85"/>
<rect x="468.9" y="319.9" width="2.6" height="1" fill="#e8c060" opacity="0.85"/>
<rect x="472.1" y="319.9" width="2.0" height="1" fill="#e58ab8" opacity="0.85"/>
<rect x="474.7" y="319.9" width="2.5" height="1" fill="#b070d0" opacity="0.85"/>
<rect x="484.7" y="319.9" width="2.2" height="1" fill="#60b8a8" opacity="0.85"/>
<rect x="487.5" y="319.9" width="2.0" height="1" fill="#60b8a8" opacity="0.85"/>
<rect x="493.0" y="319.9" width="1.3" height="1" fill="#8080c8" opacity="0.85"/>
<rect x="503.4" y="319.9" width="2.4" height="1" fill="#60b8a8" opacity="0.85"/>
<rect x="506.4" y="319.9" width="1.9" height="1" fill="#e8c060" opacity="0.85"/>
<rect x="511.9" y="319.9" width="3.1" height="1" fill="#60b8a8" opacity="0.85"/>
<rect x="525.9" y="319.9" width="1.7" height="1" fill="#8080c8" opacity="0.85"/>
<rect x="528.2" y="319.9" width="2.9" height="1" fill="#b070d0" opacity="0.85"/>
<rect x="537.8" y="319.9" width="3.1" height="1" fill="#b070d0" opacity="0.85"/>
<rect x="547.3" y="319.9" width="2.6" height="1" fill="#60b8a8" opacity="0.85"/>
<rect x="550.5" y="319.9" width="1.4" height="1" fill="#b070d0" opacity="0.85"/>
<rect x="561.6" y="319.9" width="1.3" height="1" fill="#e8c060" opacity="0.85"/>
<rect x="566.5" y="319.9" width="2.1" height="1" fill="#b070d0" opacity="0.85"/>
<rect x="571.1" y="319.9" width="1.9" height="1" fill="#d06080" opacity="0.85"/>
<rect x="573.6" y="319.9" width="1.5" height="1" fill="#8080c8" opacity="0.85"/>
<rect x="575.6" y="319.9" width="2.9" height="1" fill="#b070d0" opacity="0.85"/>
<rect x="581.8" y="319.9" width="1.7" height="1" fill="#60b8a8" opacity="0.85"/>
<rect x="584.1" y="319.9" width="2.6" height="1" fill="#8080c8" opacity="0.85"/>
<rect x="589.6" y="319.9" width="2.2" height="1" fill="#b070d0" opacity="0.85"/>
<path d="M248.5 294.3H255.5M248 320.4H255M259 320.4H262" stroke="#b9a8d8" stroke-width="0.8"/>
<rect x="141.60" y="321.30" width="64.00" height="13.00" fill="#f8cbad" stroke="#2a2a2a" stroke-width="1"/>
<text x="173.9" y="331.7" font-size="10.2" fill="#222" text-anchor="middle" font-weight="bold">1</text>
<rect x="322.80" y="321.30" width="39.80" height="13.00" fill="#f8cbad" stroke="#2a2a2a" stroke-width="1"/>
<text x="343.00000000000006" y="331.7" font-size="10.2" fill="#222" text-anchor="middle" font-weight="bold">2</text>
<rect x="383.20" y="321.30" width="42.40" height="13.00" fill="#f8cbad" stroke="#2a2a2a" stroke-width="1"/>
<text x="404.7" y="331.7" font-size="10.2" fill="#222" text-anchor="middle" font-weight="bold">3</text>
<rect x="429.20" y="321.30" width="53.50" height="13.00" fill="#f8cbad" stroke="#2a2a2a" stroke-width="1"/>
<text x="456.25" y="331.7" font-size="10.2" fill="#222" text-anchor="middle" font-weight="bold">4</text>
<text x="388.3" y="211" font-size="8.1" fill="#000" text-anchor="start" font-weight="bold" textLength="32.6" lengthAdjust="spacingAndGlyphs">rs6477612</text>
<text x="426.7" y="211" font-size="8.1" fill="#0a8a0a" text-anchor="start" font-weight="bold" textLength="36.5" lengthAdjust="spacingAndGlyphs">rs10979182</text>
<path d="M403.9 211.3V228" stroke="#000" stroke-width="1"/><path d="M400.9 226.5H406.9L403.9 232.4Z" fill="#000"/>
<path d="M444.6 211.3V228" stroke="#0a8a0a" stroke-width="1"/><path d="M441.6 226.5H447.6L444.6 232.4Z" fill="#0a8a0a"/>
</g>
<text x="55.6" y="247.5" font-size="11.6" fill="#000" text-anchor="end" font-weight="normal" textLength="55.6" lengthAdjust="spacingAndGlyphs" stroke="#000" stroke-width="0.2">rs10979182</text>
<text x="55.6" y="261.9" font-size="11.6" fill="#000" text-anchor="end" font-weight="normal" textLength="11" lengthAdjust="spacingAndGlyphs" stroke="#000" stroke-width="0.2">LD</text>
<text x="11.5" y="288.8" font-size="11.6" fill="#000" text-anchor="start" font-weight="normal" textLength="46.5" lengthAdjust="spacingAndGlyphs" stroke="#000" stroke-width="0.2">H3K4me1</text>
<text x="11.5" y="310.8" font-size="11.6" fill="#000" text-anchor="start" font-weight="normal" textLength="41.7" lengthAdjust="spacingAndGlyphs" stroke="#000" stroke-width="0.2">H3K27ac</text>
<text x="9.6" y="327.8" font-size="11.6" fill="#000" text-anchor="start" font-weight="normal" textLength="38.4" lengthAdjust="spacingAndGlyphs" stroke="#000" stroke-width="0.2">Putative</text>
<text x="9.6" y="342.2" font-size="11.6" fill="#000" text-anchor="start" font-weight="normal" textLength="48.7" lengthAdjust="spacingAndGlyphs" stroke="#000" stroke-width="0.2">enhancers</text>
<path d="M308.7 268L141.8 362.3M482.4 268.5L669.6 362.2" stroke="#7030A0" stroke-width="1.4" fill="none"/>
<g id="C">
<rect x="141.25" y="361.80" width="528.85" height="138.10" fill="#fff" stroke="#7030A0" stroke-width="1.9"/>
<rect x="151.97" y="362.9" width="0.85" height="135.80" fill="#d6d6ff"/>
<rect x="161.47" y="362.9" width="0.85" height="135.80" fill="#d6d6ff"/>
<rect x="170.96" y="362.9" width="0.85" height="135.80" fill="#d6d6ff"/>
<rect x="180.45" y="362.9" width="0.85" height="135.80" fill="#d6d6ff"/>
<rect x="189.94" y="362.9" width="0.85" height="135.80" fill="#d6d6ff"/>
<rect x="199.43" y="362.9" width="0.85" height="135.80" fill="#d6d6ff"/>
<rect x="208.92" y="362.9" width="0.85" height="135.80" fill="#d6d6ff"/>
<rect x="218.41" y="362.9" width="0.85" height="135.80" fill="#d6d6ff"/>
<rect x="227.90" y="362.9" width="0.85" height="135.80" fill="#d6d6ff"/>
<rect x="237.39" y="362.9" width="0.85" height="135.80" fill="#d6d6ff"/>
<rect x="246.88" y="362.9" width="0.85" height="135.80" fill="#d6d6ff"/>
<rect x="256.37" y="362.9" width="0.85" height="135.80" fill="#d6d6ff"/>
<rect x="265.86" y="362.9" width="0.85" height="135.80" fill="#d6d6ff"/>
<rect x="275.35" y="362.9" width="0.85" height="135.80" fill="#d6d6ff"/>
<rect x="284.84" y="362.9" width="0.85" height="135.80" fill="#d6d6ff"/>
<rect x="294.33" y="362.9" width="0.85" height="135.80" fill="#d6d6ff"/>
<rect x="303.82" y="362.9" width="0.85" height="135.80" fill="#d6d6ff"/>
<rect x="313.31" y="362.9" width="0.85" height="135.80" fill="#d6d6ff"/>
<rect x="322.80" y="362.9" width="0.85" height="135.80" fill="#d6d6ff"/>
<rect x="332.29" y="362.9" width="0.85" height="135.80" fill="#d6d6ff"/>
<rect x="341.78" y="362.9" width="0.85" height="135.80" fill="#d6d6ff"/>
<rect x="351.27" y="362.9" width="0.85" height="135.80" fill="#d6d6ff"/>
<rect x="360.76" y="362.9" width="0.85" height="135.80" fill="#d6d6ff"/>
<rect x="370.25" y="362.9" width="0.85" height="135.80" fill="#d6d6ff"/>
<rect x="379.74" y="362.9" width="0.85" height="135.80" fill="#d6d6ff"/>
<rect x="389.23" y="362.9" width="0.85" height="135.80" fill="#d6d6ff"/>
<rect x="398.72" y="362.9" width="0.85" height="135.80" fill="#d6d6ff"/>
<rect x="408.21" y="362.9" width="0.85" height="135.80" fill="#d6d6ff"/>
<rect x="417.70" y="362.9" width="0.85" height="135.80" fill="#d6d6ff"/>
<rect x="427.19" y="362.9" width="0.85" height="135.80" fill="#d6d6ff"/>
<rect x="436.68" y="362.9" width="0.85" height="135.80" fill="#d6d6ff"/>
<rect x="446.17" y="362.9" width="0.85" height="135.80" fill="#d6d6ff"/>
<rect x="455.66" y="362.9" width="0.85" height="135.80" fill="#d6d6ff"/>
<rect x="465.15" y="362.9" width="0.85" height="135.80" fill="#d6d6ff"/>
<rect x="474.64" y="362.9" width="0.85" height="135.80" fill="#d6d6ff"/>
<rect x="484.13" y="362.9" width="0.85" height="135.80" fill="#d6d6ff"/>
<rect x="493.62" y="362.9" width="0.85" height="135.80" fill="#d6d6ff"/>
<rect x="503.11" y="362.9" width="0.85" height="135.80" fill="#d6d6ff"/>
<rect x="512.60" y="362.9" width="0.85" height="135.80" fill="#d6d6ff"/>
<rect x="522.09" y="362.9" width="0.85" height="135.80" fill="#d6d6ff"/>
<rect x="531.58" y="362.9" width="0.85" height="135.80" fill="#d6d6ff"/>
<rect x="541.07" y="362.9" width="0.85" height="135.80" fill="#d6d6ff"/>
<rect x="550.56" y="362.9" width="0.85" height="135.80" fill="#d6d6ff"/>
<rect x="560.05" y="362.9" width="0.85" height="135.80" fill="#d6d6ff"/>
<rect x="569.54" y="362.9" width="0.85" height="135.80" fill="#d6d6ff"/>
<rect x="579.03" y="362.9" width="0.85" height="135.80" fill="#d6d6ff"/>
<rect x="588.52" y="362.9" width="0.85" height="135.80" fill="#d6d6ff"/>
<rect x="598.01" y="362.9" width="0.85" height="135.80" fill="#d6d6ff"/>
<rect x="607.50" y="362.9" width="0.85" height="135.80" fill="#d6d6ff"/>
<rect x="616.99" y="362.9" width="0.85" height="135.80" fill="#d6d6ff"/>
<rect x="626.48" y="362.9" width="0.85" height="135.80" fill="#d6d6ff"/>
<rect x="635.97" y="362.9" width="0.85" height="135.80" fill="#d6d6ff"/>
<rect x="645.46" y="362.9" width="0.85" height="135.80" fill="#d6d6ff"/>
<rect x="654.95" y="362.9" width="0.85" height="135.80" fill="#d6d6ff"/>
<rect x="664.44" y="362.9" width="0.85" height="135.80" fill="#d6d6ff"/>
<text x="148.3" y="389" font-size="18.2" fill="#000" text-anchor="start" font-weight="bold" textLength="11.8" lengthAdjust="spacingAndGlyphs">C</text>
<rect x="171.20" y="392.00" width="1.50" height="31.00" fill="#bf78bf"/>
<rect x="192.00" y="392.00" width="1.10" height="31.00" fill="#aa48aa"/>
<rect x="218.00" y="392.00" width="1.10" height="31.00" fill="#bf78bf"/>
<rect x="231.00" y="392.00" width="1.10" height="31.00" fill="#aa48aa"/>
<rect x="246.80" y="392.00" width="1.20" height="31.00" fill="#aa48aa"/>
<rect x="278.30" y="392.00" width="1.10" height="31.00" fill="#bf78bf"/>
<rect x="307.00" y="392.00" width="1.00" height="31.00" fill="#aa48aa"/>
<rect x="312.90" y="392.00" width="1.50" height="31.00" fill="#aa48aa"/>
<rect x="315.00" y="392.00" width="1.00" height="31.00" fill="#aa48aa"/>
<rect x="317.00" y="392.00" width="1.20" height="31.00" fill="#aa48aa"/>
<rect x="326.60" y="392.00" width="1.10" height="31.00" fill="#aa48aa"/>
<rect x="329.00" y="392.00" width="1.10" height="31.00" fill="#aa48aa"/>
<rect x="383.90" y="392.00" width="1.10" height="31.00" fill="#aa48aa"/>
<rect x="391.70" y="392.00" width="1.20" height="31.00" fill="#bf78bf"/>
<rect x="401.10" y="392.00" width="1.10" height="31.00" fill="#aa48aa"/>
<rect x="413.60" y="392.00" width="1.20" height="31.00" fill="#bf78bf"/>
<rect x="419.20" y="392.00" width="1.80" height="31.00" fill="#860c86"/>
<rect x="490.30" y="392.00" width="1.20" height="31.00" fill="#bf78bf"/>
<rect x="495.80" y="392.00" width="1.30" height="31.00" fill="#982498"/>
<rect x="538.60" y="392.00" width="1.20" height="31.00" fill="#bf78bf"/>
<rect x="543.30" y="392.00" width="1.20" height="31.00" fill="#aa48aa"/>
<rect x="552.10" y="392.00" width="1.20" height="31.00" fill="#bf78bf"/>
<rect x="555.00" y="392.00" width="1.20" height="31.00" fill="#aa48aa"/>
<rect x="585.30" y="392.00" width="1.20" height="31.00" fill="#aa48aa"/>
<rect x="614.70" y="392.00" width="1.20" height="31.00" fill="#aa48aa"/>
<rect x="635.10" y="392.00" width="1.20" height="31.00" fill="#aa48aa"/>
<rect x="648.80" y="392.00" width="1.20" height="31.00" fill="#aa48aa"/>
<path d="M143.1 448.1L143.1 447.6L151.2 447.2L155.3 446.2L158.4 447.2L164.5 447.0L168.6 444.9L172.7 446.6L176.8 447.2L179.9 446.2L183.9 444.1L189.0 440.4L192.1 442.1L195.2 440.4L199.3 441.5L202.3 439.4L206.4 432.7L209.5 435.3L212.6 437.4L216.6 440.4L220.7 438.0L224.8 434.7L228.9 436.8L232.0 432.3L235.0 424.5L238.1 423.7L241.2 426.1L244.2 428.2L246.3 433.3L248.3 440.4L251.4 433.3L253.4 433.3L256.5 441.5L259.6 444.1L262.6 442.1L265.7 444.1L270.8 446.6L270.0 446.6L278.2 447.2L278.2 448.1Z" fill="#d98af4" stroke="#d98af4" stroke-width="0.4"/>
<path d="M290.4 448.1L290.4 447.2L298.6 447.2L298.6 448.1Z" fill="#d98af4" stroke="#d98af4" stroke-width="0.4"/>
<path d="M300.7 448.1L300.7 447.2L316.0 447.2L318.0 446.2L320.1 447.2L325.2 447.2L325.2 448.1Z" fill="#d98af4" stroke="#d98af4" stroke-width="0.4"/>
<path d="M328.2 448.1L328.2 447.2L335.4 446.6L341.5 446.6L348.7 444.9L355.8 446.2L359.9 447.2L363.0 446.2L368.1 444.5L374.2 443.7L380.4 444.5L384.4 446.2L386.5 447.2L386.5 448.1Z" fill="#d98af4" stroke="#d98af4" stroke-width="0.4"/>
<path d="M392.6 448.1L392.6 447.2L395.7 444.5L395.0 442.5L398.1 438.4L401.1 431.2L404.2 425.1L407.3 428.2L410.3 431.2L413.4 439.4L416.5 443.5L419.5 444.1L422.6 440.4L425.7 440.4L428.7 437.4L431.8 429.2L434.9 426.5L437.9 425.7L440.0 431.2L443.0 436.3L447.1 438.8L451.2 440.8L455.3 442.5L460.4 442.1L466.5 442.5L472.7 444.5L476.7 446.2L482.9 446.2L487.0 447.0L491.1 446.6L494.1 444.9L499.2 445.8L505.4 446.6L509.4 446.2L512.5 443.5L515.6 438.4L518.6 436.3L521.7 439.4L524.8 440.4L527.8 436.8L531.9 437.4L530.0 438.1L534.5 437.7L539.1 435.8L543.6 435.4L548.1 438.1L552.6 442.6L556.0 444.4L559.4 441.5L563.9 439.9L567.3 438.1L570.7 431.3L573.0 433.6L576.4 442.6L578.7 446.0L582.0 440.4L585.4 432.4L587.7 433.6L591.1 441.5L594.5 446.7L597.9 442.6L601.3 439.2L604.7 439.9L608.1 442.6L611.5 439.2L614.9 432.4L617.1 430.9L619.4 434.7L622.8 441.5L626.2 439.2L628.4 438.1L631.8 441.5L636.4 444.9L640.9 446.7L645.4 446.0L649.9 447.2L656.7 447.2L663.5 447.4L668.0 447.6L668.0 448.1Z" fill="#d98af4" stroke="#d98af4" stroke-width="0.4"/>
<path d="M143.0 472.9L143.0 472.0L185.0 472.5L189.0 471.1L194.2 468.6L197.2 470.1L201.3 471.1L205.4 468.6L209.5 467.0L213.6 467.4L217.7 469.0L221.7 467.4L224.8 465.4L228.9 467.4L232.0 461.9L235.0 453.7L238.1 451.1L241.2 450.2L244.2 451.1L246.3 455.8L248.3 466.0L251.4 467.4L253.4 466.6L257.5 470.1L262.6 471.5L270.8 472.3L270.0 472.1L278.2 472.3L278.2 472.9Z" fill="#d98af4" stroke="#d98af4" stroke-width="0.4"/>
<path d="M282.3 472.9L282.3 472.3L304.7 472.3L304.7 472.9Z" fill="#d98af4" stroke="#d98af4" stroke-width="0.4"/>
<path d="M308.8 472.9L308.8 472.3L323.1 472.3L323.1 472.9Z" fill="#d98af4" stroke="#d98af4" stroke-width="0.4"/>
<path d="M328.2 472.9L328.2 472.3L366.1 472.1L372.2 471.5L382.4 471.7L392.6 472.1L396.7 469.0L400.8 462.9L403.9 454.7L406.9 451.7L395.0 470.1L398.1 467.0L401.1 460.9L404.2 454.7L407.3 452.3L410.3 455.8L413.4 463.9L416.5 469.0L418.5 466.0L420.5 458.8L422.6 457.2L424.6 460.9L426.7 465.0L429.7 462.5L432.8 461.9L435.9 462.5L438.9 462.9L442.0 462.5L445.1 466.0L448.1 469.5L453.2 471.1L460.4 471.7L489.0 471.9L501.3 471.9L509.4 471.9L515.6 470.7L518.6 468.0L521.7 466.6L525.8 468.0L529.9 467.4L530.0 467.5L534.5 469.3L539.1 470.9L543.6 470.2L550.4 471.6L554.9 472.3L559.4 471.6L563.9 470.9L568.5 468.7L571.9 466.4L575.3 468.7L578.7 471.6L580.9 468.7L583.2 460.7L585.4 450.5L587.7 450.5L590.0 459.6L592.2 468.7L595.6 470.9L599.0 467.1L602.4 465.3L605.8 467.5L609.2 469.8L613.7 468.7L618.3 468.7L622.8 471.6L629.6 472.0L640.9 472.3L640.9 472.9Z" fill="#d98af4" stroke="#d98af4" stroke-width="0.4"/>
<path d="M644.3 472.9L644.3 472.3L654.1 472.3L654.1 472.9Z" fill="#d98af4" stroke="#d98af4" stroke-width="0.4"/>
<path d="M655.3 472.9L655.3 472.3L660.9 472.3L660.9 472.9Z" fill="#d98af4" stroke="#d98af4" stroke-width="0.4"/>
<rect x="173.1" y="474.1" width="5.3" height="11.6" fill="#cfcfcf"/>
<rect x="186.6" y="474.1" width="6.1" height="11.6" fill="#555"/>
<rect x="196.2" y="474.1" width="8.8" height="11.6" fill="#aaa"/>
<rect x="220.7" y="474.1" width="3.1" height="11.6" fill="#e4e4e4"/>
<rect x="227.3" y="474.1" width="6.7" height="11.6" fill="#000"/>
<rect x="235.6" y="474.1" width="2.9" height="11.6" fill="#ddd"/>
<rect x="244.6" y="474.1" width="7.2" height="11.6" fill="#000"/>
<rect x="291.5" y="474.1" width="7.1" height="11.6" fill="#dedede"/>
<rect x="344.2" y="474.1" width="4.5" height="11.6" fill="#e2e2e2"/>
<rect x="371.6" y="474.1" width="2.6" height="11.6" fill="#bbb"/>
<rect x="374.2" y="474.1" width="6.8" height="11.6" fill="#333"/>
<rect x="400.6" y="474.1" width="4.2" height="11.6" fill="#888"/>
<rect x="415.4" y="474.1" width="10.3" height="11.6" fill="#000"/>
<rect x="453.2" y="474.1" width="2.7" height="11.6" fill="#ccc"/>
<rect x="460.8" y="474.1" width="4.7" height="11.6" fill="#ccc"/>
<rect x="491.7" y="474.1" width="10.6" height="11.6" fill="#555"/>
<rect x="517.6" y="474.1" width="11.9" height="11.6" fill="#000"/>
<rect x="568.9" y="474.1" width="3.0" height="11.6" fill="#ccc"/>
<rect x="577.5" y="474.1" width="5.7" height="11.6" fill="#1c1c1c"/>
<rect x="592.2" y="474.1" width="5.7" height="11.6" fill="#000"/>
<rect x="597.9" y="474.1" width="4.1" height="11.6" fill="#888"/>
<rect x="605.4" y="474.1" width="7.6" height="11.6" fill="#000"/>
<rect x="623.9" y="474.1" width="12.9" height="11.6" fill="#e2e2e2"/>
<rect x="656" y="474.1" width="3.0" height="11.6" fill="#888"/>
<rect x="186.6" y="486.9" width="6.1" height="11.8" fill="#999"/>
<rect x="196.8" y="486.9" width="2.2" height="11.8" fill="#888"/>
<rect x="199" y="486.9" width="7.4" height="11.8" fill="#1c1c1c"/>
<rect x="224.2" y="486.9" width="1.8" height="11.8" fill="#777"/>
<rect x="226" y="486.9" width="8.0" height="11.8" fill="#111"/>
<rect x="234" y="486.9" width="1.6" height="11.8" fill="#777"/>
<rect x="240.6" y="486.9" width="2.9" height="11.8" fill="#aaa"/>
<rect x="243.5" y="486.9" width="9.5" height="11.8" fill="#2a2a2a"/>
<rect x="267.7" y="486.9" width="7.5" height="11.8" fill="#e6e6e6"/>
<rect x="282.7" y="486.9" width="3.1" height="11.8" fill="#b0b0b0"/>
<rect x="285.8" y="486.9" width="16.9" height="11.8" fill="#8e8e8e"/>
<rect x="373.8" y="486.9" width="8.6" height="11.8" fill="#999"/>
<rect x="376.5" y="486.9" width="4.0" height="11.8" fill="#444"/>
<rect x="411.8" y="486.9" width="2.2" height="11.8" fill="#666"/>
<rect x="414" y="486.9" width="12.5" height="11.8" fill="#111"/>
<rect x="426.5" y="486.9" width="2.2" height="11.8" fill="#666"/>
<rect x="437.5" y="486.9" width="8.6" height="11.8" fill="#aaa"/>
<rect x="490.6" y="486.9" width="5.2" height="11.8" fill="#ccc"/>
<rect x="513.1" y="486.9" width="2.9" height="11.8" fill="#777"/>
<rect x="516" y="486.9" width="15.0" height="11.8" fill="#0c0c0c"/>
<rect x="531" y="486.9" width="2.6" height="11.8" fill="#777"/>
<rect x="568" y="486.9" width="6.1" height="11.8" fill="#666"/>
<rect x="575.9" y="486.9" width="7.3" height="11.8" fill="#555"/>
<rect x="583.6" y="486.9" width="5.2" height="11.8" fill="#ddd"/>
<rect x="589.3" y="486.9" width="9.0" height="11.8" fill="#000"/>
<rect x="599.7" y="486.9" width="6.1" height="11.8" fill="#777"/>
<rect x="605.8" y="486.9" width="11.3" height="11.8" fill="#000"/>
<rect x="617.1" y="486.9" width="12.5" height="11.8" fill="#aaa"/>
<rect x="631.8" y="486.9" width="5.0" height="11.8" fill="#c8c8c8"/>
<rect x="668" y="486.9" width="1.2" height="11.8" fill="#ccc"/>
<rect x="200.2" y="486.9" width="1" height="11.8" fill="#1fc01f"/>
<rect x="202.5" y="486.9" width="1" height="11.8" fill="#1fc01f"/>
<rect x="228.8" y="486.9" width="1" height="11.8" fill="#1fc01f"/>
<rect x="230.8" y="486.9" width="1" height="11.8" fill="#1fc01f"/>
<rect x="248.8" y="486.9" width="1" height="11.8" fill="#1fc01f"/>
<rect x="377.8" y="486.9" width="1" height="11.8" fill="#1fc01f"/>
<rect x="416.0" y="486.9" width="1" height="11.8" fill="#1fc01f"/>
<rect x="418.0" y="486.9" width="1" height="11.8" fill="#1fc01f"/>
<rect x="420.0" y="486.9" width="1" height="11.8" fill="#1fc01f"/>
<rect x="519.6" y="486.9" width="1" height="11.8" fill="#1fc01f"/>
<rect x="523.7" y="486.9" width="1" height="11.8" fill="#1fc01f"/>
<rect x="567.9" y="486.9" width="1" height="11.8" fill="#1fc01f"/>
<rect x="582.0" y="486.9" width="1" height="11.8" fill="#1fc01f"/>
<rect x="593.5" y="486.9" width="1" height="11.8" fill="#1fc01f"/>
<rect x="607.4" y="486.9" width="1" height="11.8" fill="#1fc01f"/>
<rect x="616.0" y="486.9" width="1" height="11.8" fill="#1fc01f"/>
<rect x="630" y="486.9" width="1.8" height="11.8" fill="#18a838"/>
<rect x="254.1" y="486.9" width="1" height="11.8" fill="#8fd88f"/>
<text x="404.8" y="369.8" font-size="8.1" fill="#000" text-anchor="start" font-weight="bold" textLength="32.6" lengthAdjust="spacingAndGlyphs">rs6477612</text>
<text x="527.3" y="369.7" font-size="8.1" fill="#0a8a0a" text-anchor="start" font-weight="bold" textLength="36.6" lengthAdjust="spacingAndGlyphs">rs10979182</text>
<path d="M420.5 370.4V387" stroke="#000" stroke-width="1"/><path d="M417.6 385.2H423.4L420.5 391.2Z" fill="#000"/>
<path d="M543.4 370.2V387" stroke="#0a8a0a" stroke-width="1"/><path d="M540.5 384.6H546.3L543.4 390.6Z" fill="#0a8a0a"/>
</g>
<text x="133.5" y="405.5" font-size="11.6" fill="#000" text-anchor="end" font-weight="normal" textLength="55.6" lengthAdjust="spacingAndGlyphs" stroke="#000" stroke-width="0.2">rs10979182</text>
<text x="133.5" y="420.1" font-size="11.6" fill="#000" text-anchor="end" font-weight="normal" textLength="10.7" lengthAdjust="spacingAndGlyphs" stroke="#000" stroke-width="0.2">LD</text>
<text x="137" y="445.9" font-size="11.6" fill="#000" text-anchor="end" font-weight="normal" textLength="83.9" lengthAdjust="spacingAndGlyphs" stroke="#000" stroke-width="0.2">H3K4me1 (NHEK)</text>
<text x="137" y="467.9" font-size="11.6" fill="#000" text-anchor="end" font-weight="normal" textLength="78.8" lengthAdjust="spacingAndGlyphs" stroke="#000" stroke-width="0.2">H3K27ac (NHEK)</text>
<text x="135.5" y="482.9" font-size="11.6" fill="#000" text-anchor="end" font-weight="normal" textLength="68.4" lengthAdjust="spacingAndGlyphs" stroke="#000" stroke-width="0.2">Dnase clusters</text>
<text x="136.2" y="496" font-size="11.6" fill="#000" text-anchor="end" font-weight="normal" textLength="71" lengthAdjust="spacingAndGlyphs" stroke="#000" stroke-width="0.2">Txn factor ChIP</text>
</svg>
</body></html>
